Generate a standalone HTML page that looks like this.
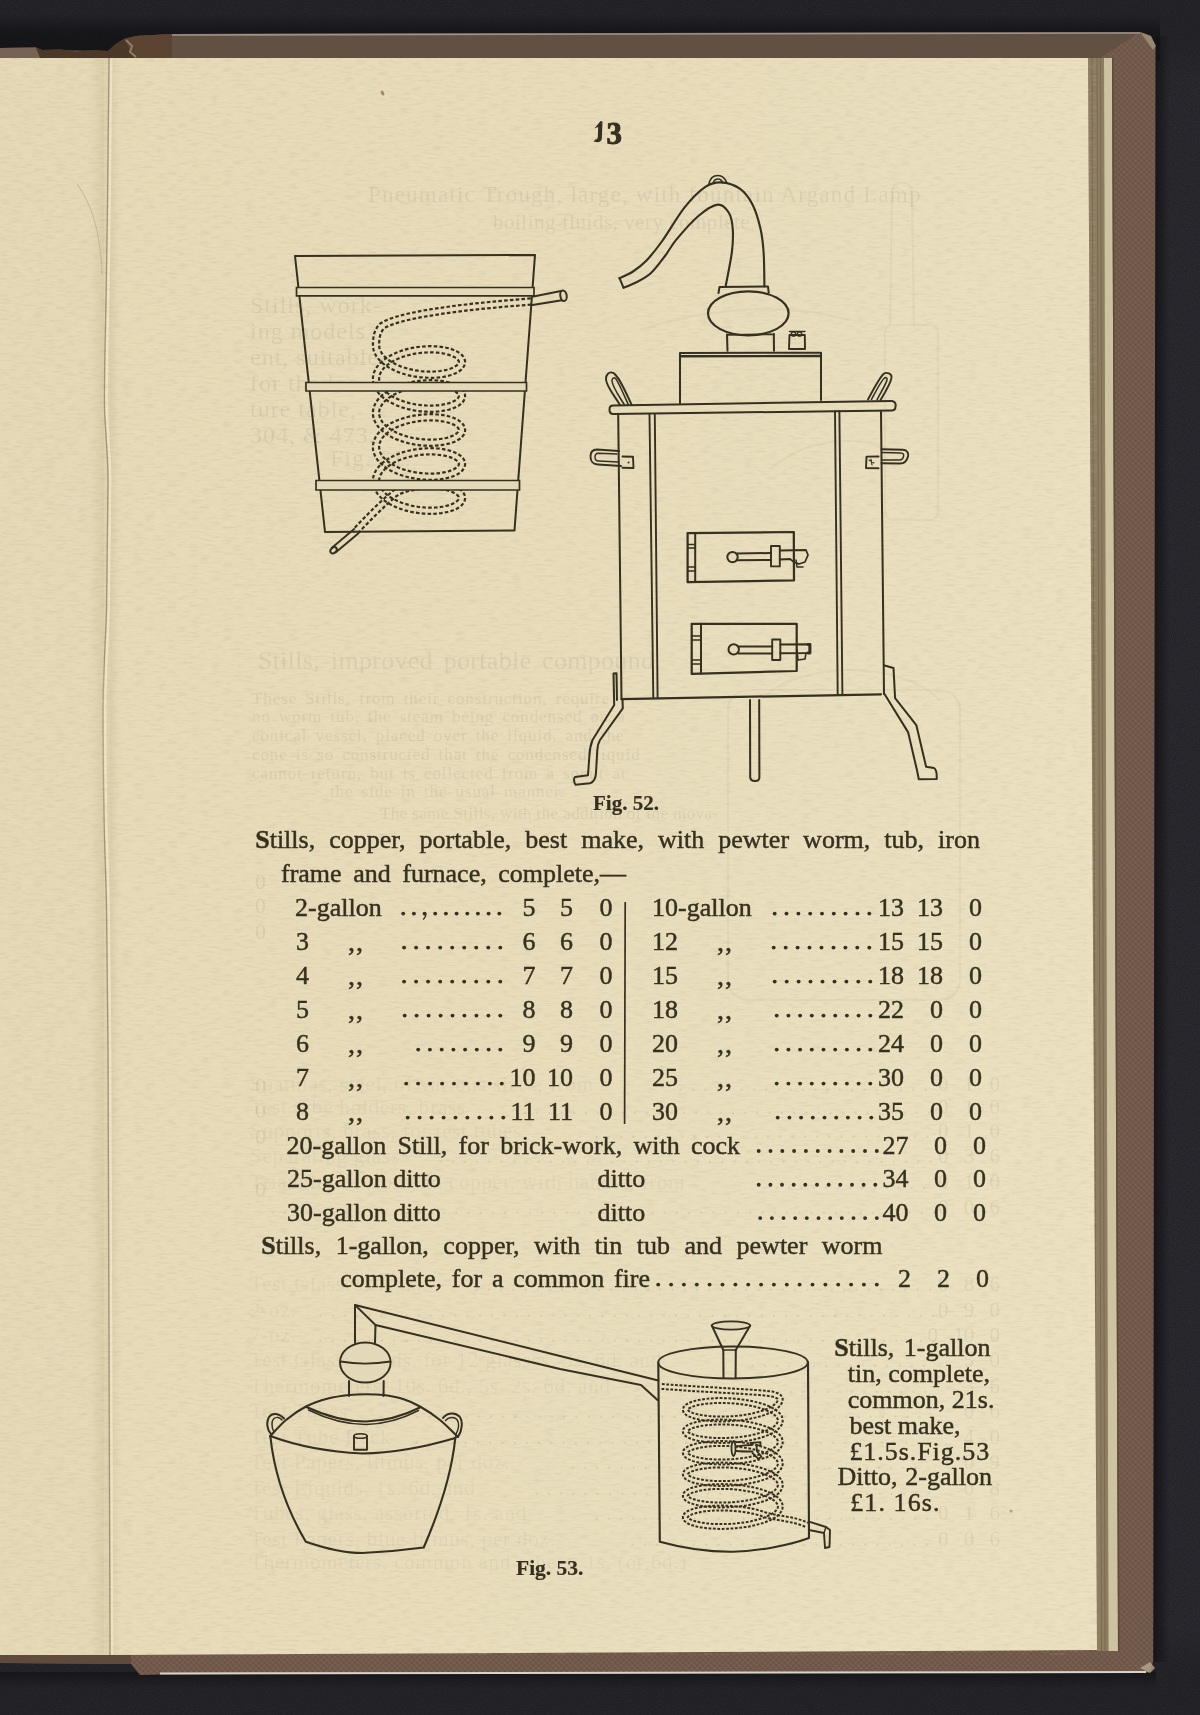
<!DOCTYPE html>
<html><head><meta charset="utf-8">
<style>
html,body{margin:0;padding:0;}
body{width:1200px;height:1715px;position:relative;overflow:hidden;background:#29292e;font-family:"Liberation Serif",serif;color:#35301f;}
#bg,#fg,#dots{position:absolute;left:0;top:0;}
#fg,#dots{filter:blur(0.25px);}
.t,.j{position:absolute;white-space:nowrap;font-size:26px;line-height:26px;-webkit-text-stroke:0.45px #35301f;filter:blur(0.3px);}
.j{text-align:justify;text-align-last:justify;}
.st{position:absolute;white-space:nowrap;color:rgba(55,60,50,0.075);filter:blur(0.6px);}
.b{font-weight:bold;-webkit-text-stroke:0.2px #35301f;}
</style></head>
<body>
<svg id="bg" width="1200" height="1715" viewBox="0 0 1200 1715">
  <defs>
    <linearGradient id="paperG" x1="0" y1="0" x2="1" y2="0.3">
      <stop offset="0" stop-color="#e5d9b6"/><stop offset="0.5" stop-color="#e7dbb9"/><stop offset="1" stop-color="#eae0bf"/>
    </linearGradient>
    <linearGradient id="leftG" x1="0" y1="0" x2="1" y2="0">
      <stop offset="0" stop-color="#e4d8b6"/><stop offset="0.8" stop-color="#e4d8b6"/><stop offset="1" stop-color="#ddd0ac"/>
    </linearGradient>
    <linearGradient id="gutR" x1="0" y1="0" x2="1" y2="0">
      <stop offset="0" stop-color="#d8cba6" stop-opacity="0.9"/><stop offset="1" stop-color="#e4d9b8" stop-opacity="0"/>
    </linearGradient>
    <linearGradient id="navyTop" x1="0" y1="0" x2="0" y2="1">
      <stop offset="0" stop-color="#141417" stop-opacity="0"/><stop offset="0.4" stop-color="#141417" stop-opacity="0.8"/><stop offset="1" stop-color="#141417" stop-opacity="1"/>
    </linearGradient>
    <linearGradient id="navyRight" x1="0" y1="0" x2="1" y2="0">
      <stop offset="0" stop-color="#141417" stop-opacity="0.9"/><stop offset="1" stop-color="#141417" stop-opacity="0"/>
    </linearGradient>
    <linearGradient id="navyBot" x1="0" y1="0" x2="0" y2="1">
      <stop offset="0" stop-color="#141417" stop-opacity="0.8"/><stop offset="1" stop-color="#141417" stop-opacity="0"/>
    </linearGradient>
    <filter id="cloth" x="0" y="0" width="100%" height="100%">
      <feTurbulence type="fractalNoise" baseFrequency="0.9 0.7" numOctaves="1" seed="7" result="n"/>
      <feColorMatrix type="matrix" values="0 0 0 0 0  0 0 0 0 0  0 0 0 0 0  -1.4 0 0 0 1.0" />
    </filter>
    <pattern id="hatch" width="4" height="4" patternUnits="userSpaceOnUse" patternTransform="rotate(45)">
      <rect width="4" height="1.3" fill="#000" opacity="0.10"/>
      <rect width="1.3" height="4" fill="#fff" opacity="0.05"/>
    </pattern>
    <linearGradient id="gutL" x1="0" y1="0" x2="1" y2="0">
      <stop offset="0" stop-color="#cfc29c" stop-opacity="0"/><stop offset="1" stop-color="#cfc29c" stop-opacity="0.35"/>
    </linearGradient>
    <linearGradient id="botFade" x1="0" y1="0" x2="0" y2="1">
      <stop offset="0" stop-color="#101013" stop-opacity="0"/><stop offset="0.45" stop-color="#101013" stop-opacity="0.22"/><stop offset="1" stop-color="#101013" stop-opacity="0.22"/>
    </linearGradient>
    <linearGradient id="topFade" x1="0" y1="0" x2="0" y2="1">
      <stop offset="0" stop-color="#101013" stop-opacity="0.22"/><stop offset="0.45" stop-color="#101013" stop-opacity="0.22"/><stop offset="1" stop-color="#101013" stop-opacity="0"/>
    </linearGradient>
    <filter id="noise" x="0" y="0" width="100%" height="100%">
      <feTurbulence type="fractalNoise" baseFrequency="0.09 0.45" numOctaves="2" seed="3" result="n"/>
      <feColorMatrix type="matrix" values="0 0 0 0 0  0 0 0 0 0  0 0 0 0 0  2.2 0 0 0 -1.0"/>
    </filter>
    <filter id="noise2" x="0" y="0" width="100%" height="100%">
      <feTurbulence type="fractalNoise" baseFrequency="0.09 0.45" numOctaves="2" seed="11" result="n"/>
      <feColorMatrix type="matrix" values="0 0 0 0 1  0 0 0 0 0.98  0 0 0 0 0.9  2.2 0 0 0 -1.0"/>
    </filter>
  </defs>
  <!-- cloth -->
  <rect x="0" y="0" width="1200" height="1715" fill="#2c2c32"/>
  <rect x="0" y="0" width="1200" height="1715" fill="#000" opacity="0.35" filter="url(#cloth)"/>
  <rect x="0" y="0" width="1200" height="80" fill="url(#topFade)"/>
  <rect x="0" y="14" width="1160" height="46" fill="url(#navyTop)"/>
  <rect x="0" y="1630" width="1200" height="85" fill="url(#botFade)"/>
  <rect x="1154" y="36" width="16" height="1626" fill="url(#navyRight)"/>
  <rect x="0" y="1672" width="1156" height="16" fill="url(#navyBot)"/>
  <!-- brown cover -->
  <path d="M0,48 L36,47.5 L42,50 L108,51 L116,44 L124,39 L136,36 L172,34 L1140,32 L1151,36 L1155.5,46 L1153,1662 L1149,1672.5 L160,1674.5 L140,1675 L131,1664 L0,1663 Z" fill="#735a4b"/>
  <path d="M0,48 L36,47.5 L42,50 L108,51 L116,44 L124,39 L136,36 L172,34 L1140,32 L1151,36 L1155.5,46 L1153,1662 L1149,1672.5 L160,1674.5 L140,1675 L131,1664 L0,1663 Z" fill="url(#hatch)"/>
  <path d="M172,34 L1140,32 L1100,58 L172,58 Z" fill="#625143"/>
  <path d="M0,48 L36,47.5 L42,50 L60,49 L75,51.5 L95,50 L108,51 L116,44 L124,39 L136,36 L172,34 L172,58 L0,58 Z" fill="#4c3829"/>
  <path d="M124,39 L136,36 L172,34 L172,58 L134,58 Z" fill="#5c4433"/>
  <path d="M0,48 L36,47.5 L40,58 L0,58 Z" fill="#766353"/>
  <path d="M126,40 L132,46 L130,52 L136,57" stroke="#a08c70" stroke-width="2" fill="none" opacity="0.8"/>
  <path d="M172,35 L1140,33" stroke="#9d938b" stroke-width="1.6" fill="none"/>
  <path d="M1080,58 L1112,58 L1112,100 L1100,70 Z" fill="#3e3026" opacity="0.55"/>
  <path d="M1140,32 L1151,36 L1156,46 L1153,50 L1146,40 Z" fill="#a39478" opacity="0.8"/>
  <path d="M160,1673.5 L1146,1672" stroke="#d9d3cc" stroke-width="2" fill="none"/>
  <path d="M0,1655 L131,1655 L131,1664 L0,1663 Z" fill="#5f4a3b"/>
  <path d="M1140,1668 L1150,1662 L1155,1668 L1150,1673 Z" fill="#b5a88c" opacity="0.8"/>
  <!-- page stack on right -->
  <path d="M1088,58 L1104,58 L1108.5,1651 L1097,1651 Z" fill="#8f7d62"/>
  <path d="M1092,58 L1096.5,1651 M1097,58 L1101.5,1651 M1100.5,58 L1105,1651" stroke="#7a6a52" stroke-width="1" fill="none"/>
  <path d="M1104,58 L1112,58 L1118,1651 L1108.5,1651 Z" fill="#cec3a0"/>
  <path d="M1112,58 L1113.5,58 L1119.5,1651 L1118,1651 Z" fill="#5e4a3c"/>
  <!-- right page -->
  <path d="M110,58 L1088,58 L1097,1650 L110,1655 Z" fill="url(#paperG)"/>
  <!-- left page -->
  <rect x="0" y="58" width="110" height="1597" fill="url(#leftG)"/>
  <rect x="110" y="58" width="14" height="1597" fill="url(#gutR)"/>
  <path d="M109,58 C108.5,120 107.5,220 106,300 C105,350 104,380 104.5,410 C106,440 108,460 108,480 C107.5,540 107,580 106.5,610 C105,650 103,680 103,710 C103,760 103.5,790 104,820 C105,860 106,880 106.5,910 C107,960 107.5,1000 108,1050 C108.5,1150 109,1250 109,1350 C109,1450 109.5,1550 110,1655" stroke="#f2ead0" stroke-width="2.4" fill="none" opacity="0.75" transform="translate(2.2,0)"/>
  <path d="M109,58 C108.5,120 107.5,220 106,300 C105,350 104,380 104.5,410 C106,440 108,460 108,480 C107.5,540 107,580 106.5,610 C105,650 103,680 103,710 C103,760 103.5,790 104,820 C105,860 106,880 106.5,910 C107,960 107.5,1000 108,1050 C108.5,1150 109,1250 109,1350 C109,1450 109.5,1550 110,1655" stroke="#a39470" stroke-width="1.3" fill="none"/>
  <rect x="92" y="58" width="12" height="1597" fill="url(#gutL)"/>
  <path d="M77,184 C85,195 95,215 99,242 C101,255 102,265 102,275" stroke="#bfb292" stroke-width="1.1" fill="none" opacity="0.8"/>
  <ellipse cx="382.5" cy="93" rx="1.6" ry="2.6" transform="rotate(-30 382.5 93)" fill="#8a6f52" opacity="0.8"/>
  <circle cx="1011" cy="1511" r="1.6" fill="#9a8c70" opacity="0.7"/>
  <!-- paper noise -->
  <rect x="0" y="58" width="1097" height="1597" fill="#000" opacity="0.045" filter="url(#noise)"/>
  <rect x="0" y="58" width="1097" height="1597" fill="#fff" opacity="0.10" filter="url(#noise2)"/>
</svg>

<div class="st" style="left:368px;top:182.9px;font-size:23px;line-height:23px;letter-spacing:1.2px;">Pneumatic Trough, large, with fountain Argand Lamp</div>
<div class="st" style="left:493px;top:211.5px;font-size:21px;line-height:21px;letter-spacing:0.5px;">boiling fluids, very complete</div>
<div class="st" style="left:250px;top:293.2px;font-size:24px;line-height:24px;letter-spacing:1px;">Stills, work-</div>
<div class="st" style="left:250px;top:319.2px;font-size:24px;line-height:24px;letter-spacing:1px;">ing models</div>
<div class="st" style="left:250px;top:345.2px;font-size:24px;line-height:24px;letter-spacing:1px;">ent, suitable</div>
<div class="st" style="left:250px;top:371.2px;font-size:24px;line-height:24px;letter-spacing:1px;">for the lec-</div>
<div class="st" style="left:250px;top:397.2px;font-size:24px;line-height:24px;letter-spacing:1px;">ture table,</div>
<div class="st" style="left:250px;top:423.2px;font-size:24px;line-height:24px;letter-spacing:1px;">304, &amp; 473.</div>
<div class="st" style="left:330px;top:446.2px;font-size:24px;line-height:24px;letter-spacing:1px;">Fig. 61.</div>
<div class="st" style="left:258px;top:647.6px;font-size:26px;line-height:26px;letter-spacing:0.3px;word-spacing:4px;">Stills, improved portable compound.</div>
<div class="st" style="left:252px;top:689.7px;font-size:17px;line-height:17px;letter-spacing:0.9px;word-spacing:3px;">These Stills, from their construction, require</div>
<div class="st" style="left:252px;top:708.4px;font-size:17px;line-height:17px;letter-spacing:0.9px;word-spacing:3px;">no worm tub, the steam being condensed on a</div>
<div class="st" style="left:252px;top:727.1px;font-size:17px;line-height:17px;letter-spacing:0.9px;word-spacing:3px;">conical vessel, placed over the liquid, and the</div>
<div class="st" style="left:252px;top:745.8px;font-size:17px;line-height:17px;letter-spacing:0.9px;word-spacing:3px;">cone is so constructed that the condensed liquid</div>
<div class="st" style="left:252px;top:764.5px;font-size:17px;line-height:17px;letter-spacing:0.9px;word-spacing:3px;">cannot return, but is collected from a spout at</div>
<div class="st" style="left:330px;top:783.2px;font-size:17px;line-height:17px;letter-spacing:0.9px;word-spacing:3px;">the side in the usual manner.</div>
<div class="st" style="left:380px;top:804.7px;font-size:17px;line-height:17px;letter-spacing:0.4px;">The same Stills, with the addition of the mova-</div>
<svg style="position:absolute;left:0;top:0;filter:blur(0.7px)" width="1200" height="1715" viewBox="0 0 1200 1715"><g fill="none" stroke="rgba(55,60,50,0.045)" stroke-width="2.2"><rect x="885" y="325" width="53" height="195" rx="8"/><path d="M890,325 L892,190 C895,180 908,180 912,190 L914,325"/><path d="M770,470 C800,440 860,430 900,455"/><path d="M640,330 C700,310 780,300 850,320"/><rect x="728" y="690" width="232" height="310" rx="20"/><path d="M760,700 C800,660 900,660 940,700"/></g></svg>
<div class="st" style="left:255px;top:870.7px;font-size:22px;line-height:22px;">0</div>
<div class="st" style="left:255px;top:894.7px;font-size:22px;line-height:22px;">0</div>
<div class="st" style="left:255px;top:920.7px;font-size:22px;line-height:22px;">0</div>
<div class="st" style="left:255px;top:1074.7px;font-size:22px;line-height:22px;">0</div>
<div class="st" style="left:255px;top:1099.7px;font-size:22px;line-height:22px;">0</div>
<div class="st" style="left:255px;top:1125.7px;font-size:22px;line-height:22px;">0</div>
<div class="st" style="left:255px;top:1178.7px;font-size:22px;line-height:22px;">0</div>
<div class="st" style="left:250px;top:1073.5px;font-size:21px;line-height:21px;letter-spacing:0.8px;opacity:0.6;">Spatulas, steel, of various sizes, from</div>
<div class="st" style="left:678px;top:1073.5px;font-size:21px;line-height:21px;letter-spacing:7px;">.....................</div>
<div class="st" style="right:200px;top:1073.5px;font-size:21px;line-height:21px;word-spacing:10px;">0 1 0</div>
<div class="st" style="left:250px;top:1096.5px;font-size:21px;line-height:21px;letter-spacing:0.8px;opacity:0.6;">Test tube holders, brass</div>
<div class="st" style="left:522px;top:1096.5px;font-size:21px;line-height:21px;letter-spacing:7px;">..................................</div>
<div class="st" style="right:200px;top:1096.5px;font-size:21px;line-height:21px;word-spacing:10px;">0 1 0</div>
<div class="st" style="left:250px;top:1120.5px;font-size:21px;line-height:21px;letter-spacing:0.8px;opacity:0.6;">Supports, brass, for test tubes</div>
<div class="st" style="left:594px;top:1120.5px;font-size:21px;line-height:21px;letter-spacing:7px;">............................</div>
<div class="st" style="right:200px;top:1120.5px;font-size:21px;line-height:21px;word-spacing:10px;">0 1 0</div>
<div class="st" style="left:250px;top:1145.5px;font-size:21px;line-height:21px;letter-spacing:0.8px;opacity:0.6;">Separating glass</div>
<div class="st" style="left:438px;top:1145.5px;font-size:21px;line-height:21px;letter-spacing:7px;">.........................................</div>
<div class="st" style="right:200px;top:1145.5px;font-size:21px;line-height:21px;word-spacing:10px;">0 3 6</div>
<div class="st" style="left:250px;top:1171.5px;font-size:21px;line-height:21px;letter-spacing:0.8px;opacity:0.6;">Triangles of iron and copper, with handle, from</div>
<div class="st" style="left:762px;top:1171.5px;font-size:21px;line-height:21px;letter-spacing:7px;">..............</div>
<div class="st" style="right:200px;top:1171.5px;font-size:21px;line-height:21px;word-spacing:10px;">0 1 0</div>
<div class="st" style="left:270px;top:1196.5px;font-size:21px;line-height:21px;letter-spacing:7px;">.......................................................</div>
<div class="st" style="right:200px;top:1196.5px;font-size:21px;line-height:21px;word-spacing:10px;">0 0 6</div>
<div class="st" style="left:250px;top:1273.5px;font-size:21px;line-height:21px;letter-spacing:0.8px;opacity:0.6;">Test Glasses, 1-oz.</div>
<div class="st" style="left:474px;top:1273.5px;font-size:21px;line-height:21px;letter-spacing:7px;">......................................</div>
<div class="st" style="right:200px;top:1273.5px;font-size:21px;line-height:21px;word-spacing:10px;">0 8 6</div>
<div class="st" style="left:250px;top:1299.5px;font-size:21px;line-height:21px;letter-spacing:0.8px;opacity:0.6;">2-oz.</div>
<div class="st" style="left:318px;top:1299.5px;font-size:21px;line-height:21px;letter-spacing:7px;">...................................................</div>
<div class="st" style="right:200px;top:1299.5px;font-size:21px;line-height:21px;word-spacing:10px;">0 9 0</div>
<div class="st" style="left:250px;top:1324.5px;font-size:21px;line-height:21px;letter-spacing:0.8px;opacity:0.6;">7-oz.</div>
<div class="st" style="left:318px;top:1324.5px;font-size:21px;line-height:21px;letter-spacing:7px;">...................................................</div>
<div class="st" style="right:200px;top:1324.5px;font-size:21px;line-height:21px;word-spacing:10px;">0 10 0</div>
<div class="st" style="left:250px;top:1349.5px;font-size:21px;line-height:21px;letter-spacing:0.8px;opacity:0.6;">Test Glass Stands, for 12 glasses, 3s. 6d. and</div>
<div class="st" style="left:750px;top:1349.5px;font-size:21px;line-height:21px;letter-spacing:7px;">...............</div>
<div class="st" style="right:200px;top:1349.5px;font-size:21px;line-height:21px;word-spacing:10px;">5 0</div>
<div class="st" style="left:250px;top:1375.5px;font-size:21px;line-height:21px;letter-spacing:0.8px;opacity:0.6;">Thermometers, 10s. 6d., 5s. 2s. 6d. and</div>
<div class="st" style="left:678px;top:1375.5px;font-size:21px;line-height:21px;letter-spacing:7px;">.....................</div>
<div class="st" style="right:200px;top:1375.5px;font-size:21px;line-height:21px;word-spacing:10px;">3 6</div>
<div class="st" style="left:250px;top:1400.5px;font-size:21px;line-height:21px;letter-spacing:0.8px;opacity:0.6;">Test Tubes</div>
<div class="st" style="left:378px;top:1400.5px;font-size:21px;line-height:21px;letter-spacing:7px;">..............................................</div>
<div class="st" style="right:200px;top:1400.5px;font-size:21px;line-height:21px;word-spacing:10px;">0 6</div>
<div class="st" style="left:250px;top:1426.5px;font-size:21px;line-height:21px;letter-spacing:0.8px;opacity:0.6;">Test Tube Rack</div>
<div class="st" style="left:414px;top:1426.5px;font-size:21px;line-height:21px;letter-spacing:7px;">...........................................</div>
<div class="st" style="right:200px;top:1426.5px;font-size:21px;line-height:21px;word-spacing:10px;">4 0</div>
<div class="st" style="left:250px;top:1451.5px;font-size:21px;line-height:21px;letter-spacing:0.8px;opacity:0.6;">Test Papers, litmus, per doz.</div>
<div class="st" style="left:570px;top:1451.5px;font-size:21px;line-height:21px;letter-spacing:7px;">..............................</div>
<div class="st" style="right:200px;top:1451.5px;font-size:21px;line-height:21px;word-spacing:10px;">0 9</div>
<div class="st" style="left:250px;top:1477.5px;font-size:21px;line-height:21px;letter-spacing:0.8px;opacity:0.6;">Test Liquids, 1s. 6d. and</div>
<div class="st" style="left:534px;top:1477.5px;font-size:21px;line-height:21px;letter-spacing:7px;">.................................</div>
<div class="st" style="right:200px;top:1477.5px;font-size:21px;line-height:21px;word-spacing:10px;">0 8</div>
<div class="st" style="left:250px;top:1502.5px;font-size:21px;line-height:21px;letter-spacing:0.8px;opacity:0.6;">Tubes, glass, assorted, 1s. and</div>
<div class="st" style="left:594px;top:1502.5px;font-size:21px;line-height:21px;letter-spacing:7px;">............................</div>
<div class="st" style="right:200px;top:1502.5px;font-size:21px;line-height:21px;word-spacing:10px;">0 1 6</div>
<div class="st" style="left:250px;top:1528.5px;font-size:21px;line-height:21px;letter-spacing:0.8px;opacity:0.6;">Test Papers, blue litmus, per doz.</div>
<div class="st" style="left:630px;top:1528.5px;font-size:21px;line-height:21px;letter-spacing:7px;">.........................</div>
<div class="st" style="right:200px;top:1528.5px;font-size:21px;line-height:21px;word-spacing:10px;">0 0 6</div>
<div class="st" style="left:250px;top:1551.5px;font-size:21px;line-height:21px;letter-spacing:0.8px;opacity:0.6;">Thermometers, common and others, 1s. (or 6d.)</div>
<svg id="fg" width="1200" height="1715" viewBox="0 0 1200 1715"><polyline points="531.2,304.6 519.7,305.5 508.1,306.4 496.4,307.5 484.8,308.6 473.4,309.8 462.2,311.1 451.3,312.5 440.8,314.0 430.9,315.6 421.5,317.2 412.9,318.9 405.0,320.7 398.1,322.6 392.1,324.6 387.3,326.6 383.9,328.4 382.4,330.4 381.1,332.8 380.1,335.6 379.5,338.5 379.2,341.7 379.1,345.0 379.2,346.5 379.4,347.9 379.9,349.4 380.5,350.8 381.3,352.3 382.2,353.8 383.4,355.3 384.7,356.7 386.3,358.1 387.9,359.5 389.8,360.8 391.8,362.1 394.0,363.3 396.3,364.5 398.7,365.6 401.2,366.6 403.9,367.5 406.6,368.3 409.4,369.1 412.2,369.7 415.1,370.3 418.0,370.7 420.9,371.1 423.8,371.4 426.6,371.5 429.5,371.6 432.2,371.6 435.0,371.5 437.6,371.3 440.1,371.0 442.6,370.6 444.9,370.2 447.0,369.7 449.0,369.1 450.9,368.5 452.6,367.8 454.0,367.1 455.3,366.3 456.4,365.6 457.3,364.9 458.0,364.2 458.4,363.5 458.7,362.9 458.9,362.4 458.9,362.0 458.9,361.5 458.7,361.1 458.4,360.5 457.9,359.8 457.3,359.1 456.4,358.4 455.3,357.6 454.0,356.9 452.5,356.2 450.8,355.5 449.0,354.9 447.0,354.3 444.8,353.8 442.5,353.3 440.0,353.0 437.5,352.7 434.9,352.5 432.2,352.4 429.4,352.4 426.5,352.5 423.7,352.6 420.8,352.9 417.9,353.3 415.0,353.7 412.1,354.3 409.3,355.0 406.5,355.7 403.8,356.5 401.2,357.5 398.6,358.5 396.2,359.5 393.9,360.7 391.8,361.9 389.7,363.2 387.9,364.5 386.2,365.9 384.7,367.3 383.3,368.8 382.2,370.3 381.2,371.7 380.4,373.2 379.8,374.7 379.4,376.1 379.2,377.6 379.1,379.0 379.2,380.5 379.4,382.0 379.9,383.4 380.5,384.9 381.3,386.4 382.3,387.8 383.4,389.3 384.8,390.7 386.3,392.2 388.0,393.5 389.9,394.9 391.9,396.2 394.1,397.4 396.4,398.5 398.8,399.6 401.3,400.6 404.0,401.5 406.7,402.3 409.5,403.1 412.3,403.7 415.2,404.3 418.0,404.7 421.0,405.1 423.8,405.4 426.7,405.5 429.5,405.6 432.3,405.6 435.0,405.5 437.7,405.3 440.2,405.0 442.6,404.6 444.9,404.2 447.1,403.7 449.1,403.1 450.9,402.5 452.6,401.8 454.1,401.1 455.4,400.3 456.4,399.6 457.3,398.8 458.0,398.1 458.4,397.5 458.7,396.9 458.9,396.4 458.9,396.0 458.9,395.5 458.7,395.0 458.4,394.5 457.9,393.8 457.2,393.1 456.4,392.4 455.3,391.6 454.0,390.9 452.5,390.2 450.8,389.5 448.9,388.8 446.9,388.3 444.7,387.8 442.4,387.3 440.0,387.0 437.4,386.7 434.8,386.5 432.1,386.4 429.3,386.4 426.4,386.5 423.6,386.6 420.7,386.9 417.8,387.3 414.9,387.8 412.0,388.3 409.2,389.0 406.4,389.7 403.7,390.6 401.1,391.5 398.6,392.5 396.1,393.6 393.9,394.7 391.7,396.0 389.7,397.2 387.8,398.6 386.2,400.0 384.6,401.4 383.3,402.8 382.2,404.3 381.2,405.8 380.4,407.3 379.8,408.7 379.4,410.2 379.2,411.6 379.1,413.1 379.2,414.5 379.5,416.0 379.9,417.5 380.5,418.9 381.3,420.4 382.3,421.9 383.5,423.3 384.8,424.8 386.4,426.2 388.1,427.6 389.9,428.9 392.0,430.2 394.1,431.4 396.4,432.6 398.9,433.6 401.4,434.6 404.0,435.5 406.8,436.4 409.5,437.1 412.4,437.8 415.2,438.3 418.1,438.8 421.0,439.1 423.9,439.4 426.8,439.5 429.6,439.6 432.4,439.6 435.1,439.5 437.8,439.3 440.3,439.0 442.7,438.6 445.0,438.2 447.1,437.7 449.1,437.1 451.0,436.4 452.7,435.8 454.1,435.0 455.4,434.3 456.5,433.5 457.3,432.8 458.0,432.1 458.4,431.5 458.7,430.9 458.9,430.4 458.9,430.0 458.8,429.5 458.7,429.0 458.4,428.4 457.9,427.8 457.2,427.1 456.3,426.3 455.2,425.6 453.9,424.8 452.4,424.1 450.7,423.5 448.8,422.8 446.8,422.3 444.6,421.8 442.3,421.3 439.9,421.0 437.3,420.7 434.7,420.5 432.0,420.4 429.2,420.4 426.4,420.5 423.5,420.7 420.6,420.9 417.7,421.3 414.8,421.8 411.9,422.3 409.1,423.0 406.3,423.8 403.6,424.6 401.0,425.5 398.5,426.5 396.1,427.6 393.8,428.8 391.6,430.0 389.6,431.3 387.8,432.6 386.1,434.0 384.6,435.4 383.3,436.9 382.1,438.3 381.2,439.8 380.4,441.3 379.8,442.8 379.4,444.2 379.2,445.7 379.1,447.1 379.2,448.6 379.5,450.0 379.9,451.5 380.5,453.0 381.3,454.5 382.3,455.9 383.5,457.4 384.9,458.8 386.4,460.2 388.1,461.6 390.0,463.0 392.0,464.2 394.2,465.4 396.5,466.6 398.9,467.7 401.5,468.7 404.1,469.6 406.8,470.4 409.6,471.1 412.5,471.8 415.3,472.3 418.2,472.8 421.1,473.1 424.0,473.4 426.9,473.5 429.7,473.6 432.5,473.6 435.2,473.5 437.8,473.3 440.4,473.0 442.8,472.6 445.1,472.2 447.2,471.6 449.2,471.1 451.0,470.4 452.7,469.7 454.2,469.0 455.4,468.3 456.5,467.5 457.4,466.8 458.0,466.1 458.5,465.4 458.7,464.9 458.9,464.4 458.9,464.0 458.8,463.5 458.7,463.0 458.4,462.4 457.9,461.8 457.2,461.1 456.3,460.3 455.2,459.6 453.9,458.8 452.4,458.1 450.7,457.4 448.8,456.8 446.8,456.2 444.6,455.7 442.3,455.3 439.8,455.0 437.3,454.7 434.6,454.5 431.9,454.4 429.1,454.4 426.3,454.5 423.4,454.7 420.5,454.9 417.6,455.3 414.7,455.8 411.8,456.4 409.0,457.0 406.2,457.8 403.5,458.6 400.9,459.5 398.4,460.6 396.0,461.7 393.7,462.8 391.6,464.0 389.6,465.3 387.7,466.7 386.1,468.1 384.6,469.5 383.2,470.9 382.1,472.4 381.2,473.9 380.4,475.3 379.8,476.8 379.4,478.3 379.2,479.7 379.1,481.2 379.2,482.6 379.5,484.1 379.9,485.6 380.6,487.0 381.4,488.5 382.4,490.0 383.5,491.4 384.9,492.9 386.5,494.3 388.2,495.7 390.1,497.0 392.1,498.3 394.3,499.5 396.6,500.6 399.0,501.7 401.6,502.7 404.2,503.6 406.9,504.4 409.7,505.2 412.5,505.8 415.4,506.3 418.3,506.8 421.2,507.1 424.1,507.4 427.0,507.6 429.8,507.6 432.6,507.6 435.3,507.5 437.9,507.3 440.4,507.0 442.8,506.6 445.1,506.1 447.3,505.6 449.3,505.0 451.1,504.4 452.7,503.7 454.2,503.0 455.5,502.3 456.5,501.5 457.4,500.8 458.0,500.1 458.5,499.4 458.7,498.9 458.9,498.4 458.9,497.9 458.8,497.5 458.7,497.0 458.4,496.4 457.9,495.7 457.2,495.0 456.3,494.3 455.1,493.5 453.8,492.8 452.3,492.1 450.6,491.4 448.7,490.8 446.7,490.2 444.5,489.7 442.2,489.3 439.7,488.9 437.2,488.7 434.5,488.5 431.8,488.4 429.0,488.4 426.2,488.5 423.3,488.7 420.4,489.0 417.5,489.3 414.6,489.8 411.8,490.4 408.9,491.0 406.2,491.8 403.5,492.6 400.8,493.6 398.6,494.5 396.9,495.8 394.4,497.7 391.7,500.1 388.6,502.8 385.4,505.8 382.1,508.9 378.7,512.2 375.3,515.5 371.9,518.9 368.7,522.1 365.7,525.2 362.9,528.1 360.4,530.8 358.3,533.1" fill="none" stroke="#35301f" stroke-width="2.2" stroke-dasharray="3.6 2.2" stroke-linecap="butt"/>
<polyline points="530.8,298.4 519.2,299.3 507.6,300.3 495.9,301.3 484.2,302.5 472.7,303.7 461.4,305.0 450.5,306.4 439.9,307.9 429.9,309.4 420.4,311.1 411.6,312.9 403.5,314.7 396.3,316.7 390.0,318.8 384.6,321.0 380.1,323.6 377.3,326.9 375.4,330.3 374.1,333.9 373.4,337.6 373.0,341.3 372.9,345.0 373.0,347.2 373.4,349.3 374.0,351.4 374.9,353.5 375.9,355.5 377.2,357.4 378.7,359.3 380.3,361.1 382.2,362.8 384.2,364.4 386.3,366.0 388.6,367.4 391.1,368.8 393.6,370.1 396.3,371.3 399.1,372.4 401.9,373.4 404.9,374.3 407.9,375.1 410.9,375.8 414.0,376.4 417.1,376.9 420.2,377.3 423.3,377.5 426.4,377.7 429.4,377.8 432.4,377.8 435.3,377.7 438.2,377.5 440.9,377.2 443.6,376.8 446.1,376.3 448.6,375.7 450.9,375.0 453.0,374.3 455.1,373.5 456.9,372.6 458.6,371.6 460.2,370.5 461.5,369.4 462.7,368.1 463.7,366.7 464.5,365.2 464.9,363.6 465.1,362.0 464.9,360.3 464.4,358.7 463.7,357.2 462.7,355.9 461.5,354.6 460.1,353.4 458.6,352.4 456.9,351.4 455.0,350.5 453.0,349.7 450.8,348.9 448.5,348.3 446.1,347.7 443.5,347.2 440.8,346.8 438.1,346.5 435.2,346.3 432.3,346.2 429.3,346.2 426.3,346.3 423.2,346.5 420.1,346.7 417.0,347.1 413.9,347.6 410.8,348.2 407.8,348.9 404.8,349.7 401.9,350.6 399.0,351.7 396.2,352.8 393.6,353.9 391.0,355.2 388.6,356.6 386.3,358.1 384.1,359.6 382.1,361.3 380.3,363.0 378.6,364.8 377.2,366.6 375.9,368.6 374.8,370.6 374.0,372.6 373.4,374.8 373.0,376.9 372.9,379.1 373.0,381.2 373.4,383.4 374.0,385.5 374.9,387.6 376.0,389.6 377.3,391.5 378.7,393.3 380.4,395.1 382.2,396.8 384.2,398.5 386.4,400.0 388.7,401.5 391.2,402.8 393.7,404.1 396.4,405.3 399.2,406.4 402.0,407.4 405.0,408.3 408.0,409.1 411.0,409.8 414.1,410.4 417.2,410.9 420.3,411.3 423.4,411.6 426.5,411.7 429.5,411.8 432.5,411.8 435.4,411.7 438.3,411.5 441.0,411.1 443.7,410.7 446.2,410.3 448.7,409.7 451.0,409.0 453.1,408.3 455.1,407.4 457.0,406.5 458.7,405.6 460.2,404.5 461.6,403.3 462.8,402.1 463.7,400.7 464.5,399.2 465.0,397.6 465.1,395.9 464.9,394.3 464.4,392.7 463.7,391.2 462.7,389.8 461.5,388.6 460.1,387.4 458.5,386.3 456.8,385.4 454.9,384.5 452.9,383.7 450.7,382.9 448.4,382.3 446.0,381.7 443.4,381.2 440.8,380.8 438.0,380.5 435.1,380.3 432.2,380.2 429.2,380.2 426.2,380.3 423.1,380.5 420.0,380.8 416.9,381.2 413.8,381.7 410.7,382.3 407.7,383.0 404.7,383.8 401.8,384.7 398.9,385.7 396.1,386.8 393.5,388.0 390.9,389.3 388.5,390.7 386.2,392.1 384.1,393.7 382.1,395.3 380.2,397.0 378.6,398.8 377.1,400.7 375.9,402.6 374.8,404.6 374.0,406.7 373.4,408.8 373.0,411.0 372.9,413.1 373.0,415.3 373.4,417.4 374.1,419.6 374.9,421.6 376.0,423.6 377.3,425.5 378.8,427.4 380.5,429.2 382.3,430.9 384.3,432.5 386.5,434.1 388.8,435.5 391.2,436.9 393.8,438.2 396.5,439.4 399.3,440.4 402.1,441.4 405.1,442.3 408.1,443.1 411.1,443.8 414.2,444.4 417.3,444.9 420.4,445.3 423.5,445.6 426.5,445.7 429.6,445.8 432.6,445.8 435.5,445.7 438.3,445.4 441.1,445.1 443.8,444.7 446.3,444.2 448.7,443.7 451.0,443.0 453.2,442.2 455.2,441.4 457.0,440.5 458.7,439.5 460.3,438.5 461.6,437.3 462.8,436.0 463.8,434.6 464.5,433.1 465.0,431.5 465.1,429.9 464.9,428.2 464.4,426.6 463.6,425.1 462.6,423.8 461.4,422.5 460.0,421.4 458.5,420.3 456.8,419.3 454.9,418.4 452.9,417.6 450.7,416.9 448.4,416.2 445.9,415.7 443.3,415.2 440.7,414.8 437.9,414.5 435.0,414.3 432.1,414.2 429.1,414.2 426.1,414.3 423.0,414.5 419.9,414.8 416.8,415.2 413.7,415.7 410.6,416.3 407.6,417.0 404.6,417.8 401.7,418.7 398.8,419.7 396.1,420.8 393.4,422.0 390.8,423.3 388.4,424.7 386.1,426.2 384.0,427.7 382.0,429.4 380.2,431.1 378.5,432.9 377.1,434.7 375.8,436.7 374.8,438.7 373.9,440.8 373.4,442.9 373.0,445.0 372.9,447.2 373.0,449.4 373.4,451.5 374.1,453.6 375.0,455.7 376.0,457.7 377.3,459.6 378.8,461.5 380.5,463.2 382.4,464.9 384.4,466.6 386.6,468.1 388.9,469.6 391.3,470.9 393.9,472.2 396.6,473.4 399.3,474.5 402.2,475.5 405.2,476.4 408.2,477.2 411.2,477.8 414.3,478.4 417.4,478.9 420.5,479.3 423.6,479.6 426.6,479.7 429.7,479.8 432.7,479.8 435.6,479.7 438.4,479.4 441.2,479.1 443.8,478.7 446.4,478.2 448.8,477.6 451.1,477.0 453.2,476.2 455.2,475.4 457.1,474.5 458.8,473.5 460.3,472.4 461.7,471.2 462.8,470.0 463.8,468.6 464.5,467.1 465.0,465.5 465.1,463.8 464.9,462.2 464.4,460.6 463.6,459.1 462.6,457.7 461.4,456.5 460.0,455.3 458.4,454.3 456.7,453.3 454.8,452.4 452.8,451.6 450.6,450.9 448.3,450.2 445.8,449.7 443.3,449.2 440.6,448.8 437.8,448.5 435.0,448.3 432.0,448.2 429.0,448.2 426.0,448.3 422.9,448.5 419.8,448.8 416.7,449.2 413.6,449.7 410.5,450.3 407.5,451.0 404.5,451.8 401.6,452.7 398.7,453.8 396.0,454.9 393.3,456.1 390.8,457.4 388.4,458.7 386.1,460.2 383.9,461.8 381.9,463.4 380.1,465.1 378.5,466.9 377.0,468.8 375.8,470.8 374.7,472.8 373.9,474.8 373.3,477.0 373.0,479.1 372.9,481.3 373.1,483.4 373.5,485.6 374.1,487.7 375.0,489.7 376.1,491.7 377.4,493.7 378.9,495.5 380.6,497.3 382.4,499.0 384.4,500.6 386.6,502.2 388.9,503.6 391.4,505.0 394.0,506.2 396.7,507.4 399.4,508.5 402.3,509.5 405.2,510.4 408.2,511.2 411.3,511.9 414.4,512.4 417.5,512.9 420.6,513.3 423.7,513.6 426.7,513.7 429.8,513.8 432.8,513.8 435.7,513.7 438.5,513.4 441.3,513.1 443.9,512.7 446.5,512.2 448.9,511.6 451.2,510.9 453.3,510.2 455.3,509.4 457.2,508.5 458.8,507.5 460.4,506.4 461.7,505.2 462.9,503.9 463.8,502.5 464.5,501.0 465.0,499.4 465.1,497.8 464.9,496.1 464.4,494.5 463.6,493.1 462.6,491.7 461.3,490.5 460.0,489.3 458.4,488.3 456.7,487.3 454.8,486.4 452.7,485.6 450.5,484.9 448.2,484.2 445.8,483.6 443.2,483.2 440.5,482.8 437.7,482.5 434.9,482.3 431.9,482.2 428.9,482.2 425.9,482.3 422.8,482.5 419.7,482.8 416.6,483.2 413.5,483.7 410.4,484.3 407.4,485.0 404.4,485.9 401.5,486.8 398.6,487.8 395.6,489.0 393.1,490.9 390.5,493.0 387.6,495.4 384.5,498.2 381.2,501.2 377.8,504.4 374.4,507.7 370.9,511.1 367.5,514.5 364.3,517.8 361.2,520.9 358.4,523.9 355.9,526.6 353.7,528.9" fill="none" stroke="#35301f" stroke-width="2.2" stroke-dasharray="3.6 2.2" stroke-linecap="butt"/>
<path d="M295,256 L535,255 L514.5,530.5 L325,532 Z" fill="none" stroke="#35301f" stroke-width="2.02" stroke-linejoin="round" stroke-linecap="round" />
<path d="M296.5,287.5 L534,287.5 L534,295.8 L296.5,295.8 Z" fill="#e3d8b7" stroke="#35301f" stroke-width="1.7"/>
<path d="M306,382.5 L526.5,382.5 L526.5,391 L306,391 Z" fill="#e3d8b7" stroke="#35301f" stroke-width="1.7"/>
<path d="M316,480.5 L519.5,480.5 L519.5,490 L316,490 Z" fill="#e3d8b7" stroke="#35301f" stroke-width="1.7"/>
<path d="M533.5,296.5 L561,291" fill="none" stroke="#35301f" stroke-width="1.9" stroke-linejoin="round" stroke-linecap="round" />
<path d="M532.5,305 L563.5,300" fill="none" stroke="#35301f" stroke-width="1.9" stroke-linejoin="round" stroke-linecap="round" />
<ellipse cx="563.5" cy="295.7" rx="3.2" ry="5.3" transform="rotate(-10 563.5 295.7)" fill="#e3d8b7" stroke="#35301f" stroke-width="2"/>
<path d="M354.2,529 L331.6,548" fill="none" stroke="#35301f" stroke-width="1.9" stroke-linejoin="round" stroke-linecap="round" />
<path d="M358.2,533.5 L335.6,552.5" fill="none" stroke="#35301f" stroke-width="1.9" stroke-linejoin="round" stroke-linecap="round" />
<ellipse cx="333.6" cy="550.3" rx="2.6" ry="3.6" transform="rotate(50 333.6 550.3)" fill="#e6dab8" stroke="#35301f" stroke-width="2"/>
<path d="M619.5,278.2 C621.8,277.1 628.6,274.4 633.0,271.5 C637.4,268.6 641.1,266.1 646.0,261.0 C650.9,255.9 655.8,249.9 662.2,241.0 C668.6,232.1 677.3,216.7 684.4,207.7 C691.5,198.7 698.9,191.4 705.0,187.2 C711.1,183.0 715.0,182.2 720.8,182.4 C726.6,182.7 734.5,185.0 739.8,188.7 C745.1,192.4 749.1,198.0 752.5,204.6 C755.9,211.2 758.5,220.4 760.4,228.3 C762.2,236.2 762.9,242.3 763.6,252.0 C764.3,261.7 764.3,280.8 764.4,286.5" fill="none" stroke="#35301f" stroke-width="2.13" stroke-linejoin="round" stroke-linecap="round" />
<path d="M623.5,287.7 C625.8,286.8 632.4,284.4 637.0,282.0 C641.6,279.6 646.3,277.3 651.0,273.0 C655.7,268.7 660.8,261.6 665.0,256.0 C669.2,250.4 670.9,246.1 676.5,239.4 C682.1,232.7 691.8,221.5 698.7,215.7 C705.6,209.9 712.7,205.1 717.7,204.6 C722.7,204.1 726.2,208.6 728.7,212.5 C731.2,216.4 732.2,221.7 732.7,228.3 C733.2,234.9 733.1,242.3 731.9,252.0 C730.7,261.7 726.6,280.8 725.6,286.5" fill="none" stroke="#35301f" stroke-width="2.13" stroke-linejoin="round" stroke-linecap="round" />
<path d="M619.5,278.2 L623.5,287.7" fill="none" stroke="#35301f" stroke-width="2.02" stroke-linejoin="round" stroke-linecap="round" />
<path d="M709,184 C710,178 714,175.5 718,175.5 C722,175.5 725,178 727,183" fill="none" stroke="#35301f" stroke-width="1.68" stroke-linejoin="round" stroke-linecap="round" />
<path d="M713,183 C714,180 716,179 718,179 C720.5,179 722,180.5 723,183" fill="none" stroke="#35301f" stroke-width="1.34" stroke-linejoin="round" stroke-linecap="round" />
<path d="M718.5,293 L719.5,287 L768,286.5 L768.7,292.7" fill="none" stroke="#35301f" stroke-width="2.02" stroke-linejoin="round" stroke-linecap="round" />
<ellipse cx="748.3" cy="313.3" rx="40.3" ry="22" fill="none" stroke="#35301f" stroke-width="2.2"/>
<path d="M727,334.5 L727.5,350.7 M773.8,334 L774,350.7" fill="none" stroke="#35301f" stroke-width="2.02" stroke-linejoin="round" stroke-linecap="round" />
<path d="M727,334.8 L774,334.3" fill="none" stroke="#35301f" stroke-width="1.79" stroke-linejoin="round" stroke-linecap="round" />
<path d="M789,349 L789.5,335 L804.8,335 L805,349 Z" fill="none" stroke="#35301f" stroke-width="1.9" stroke-linejoin="round" stroke-linecap="round" />
<circle cx="793.5" cy="334" r="2.2" fill="none" stroke="#35301f" stroke-width="1.3"/>
<circle cx="799.5" cy="334" r="2.2" fill="none" stroke="#35301f" stroke-width="1.3"/>
<path d="M789.5,331.5 L805,331.5" fill="none" stroke="#35301f" stroke-width="1.34" stroke-linejoin="round" stroke-linecap="round" />
<path d="M680,404 L680,353 L821,352.7 L821,400" fill="none" stroke="#35301f" stroke-width="2.02" stroke-linejoin="round" stroke-linecap="round" />
<path d="M680.5,356.3 L820.5,356" fill="none" stroke="#35301f" stroke-width="2.46" stroke-linejoin="round" stroke-linecap="round" />
<path d="M613,405.5 L891.5,401 C895.5,401 896,405 895.5,406.5 C895.5,409 894,410.5 891.5,410.5 L613,414 C610,414 609.5,412 609.5,409.5 C609.5,407 610.5,405.5 613,405.5 Z" fill="none" stroke="#35301f" stroke-width="2.02" stroke-linejoin="round" stroke-linecap="round" />
<path d="M620,405 C614,395 606,386 606,379 C606,374 609,372 612,372.5 C617,373 624,388 631.5,404.5" fill="none" stroke="#35301f" stroke-width="1.9" stroke-linejoin="round" stroke-linecap="round" />
<path d="M624.5,405 C619,396 612.5,387 612,381 C612,378 614,377 615.5,378.5 C618,381 624,395 628.5,405" fill="none" stroke="#35301f" stroke-width="1.57" stroke-linejoin="round" stroke-linecap="round" />
<path d="M868,399.5 C873,390 880,377 884,373.5 C887,372 891.5,373.5 891.5,377 C891.5,382 886,391 880.5,400" fill="none" stroke="#35301f" stroke-width="1.9" stroke-linejoin="round" stroke-linecap="round" />
<path d="M871.5,399.5 C876,391 881,381 884.5,378 C886,377 887.5,378 887,380 C886,384 881,392 877,399.8" fill="none" stroke="#35301f" stroke-width="1.57" stroke-linejoin="round" stroke-linecap="round" />
<path d="M618.2,414.5 L621.5,699.2" fill="none" stroke="#35301f" stroke-width="2.02" stroke-linejoin="round" stroke-linecap="round" />
<path d="M881,411 L884,694" fill="none" stroke="#35301f" stroke-width="2.02" stroke-linejoin="round" stroke-linecap="round" />
<path d="M649.5,414.5 L653.3,697.5 M654.8,414.5 L657.6,697.5" fill="none" stroke="#35301f" stroke-width="1.9" stroke-linejoin="round" stroke-linecap="round" />
<path d="M835,411.2 L837.7,695 M839.4,411 L842.4,695" fill="none" stroke="#35301f" stroke-width="1.9" stroke-linejoin="round" stroke-linecap="round" />
<path d="M621.5,699.2 L881,694.3" fill="none" stroke="#35301f" stroke-width="2.24" stroke-linejoin="round" stroke-linecap="round" />
<path d="M619,451 L597,449.5 C592,449.5 590.5,453 590.5,456.5 C590.5,461 593,464.5 598,464.5 L621,466" fill="none" stroke="#35301f" stroke-width="1.9" stroke-linejoin="round" stroke-linecap="round" />
<path d="M617,454 L598.5,453.2 C596,453.2 595,455 595,457 C595,459.5 596.5,461 598.5,461 L619,462" fill="none" stroke="#35301f" stroke-width="1.46" stroke-linejoin="round" stroke-linecap="round" />
<path d="M622.5,456.5 L633,456.8 L633.5,468 L622.5,467.8" fill="none" stroke="#35301f" stroke-width="1.9" stroke-linejoin="round" stroke-linecap="round" />
<circle cx="628.5" cy="462.5" r="1" fill="#35301f"/>
<path d="M881.5,449.2 L903,449.8 C907.5,450 909,454 908,456.5 C907,460.5 904,463.5 900,463.5 L881.5,463.3" fill="none" stroke="#35301f" stroke-width="1.9" stroke-linejoin="round" stroke-linecap="round" />
<path d="M882,452.5 L901,453 C903.5,453 904,455 903.5,456.5 C903,458.5 901.5,460 899.5,460 L882,460" fill="none" stroke="#35301f" stroke-width="1.46" stroke-linejoin="round" stroke-linecap="round" />
<path d="M878.5,456.5 L866.5,456.6 L866,468 L878.5,468.2" fill="none" stroke="#35301f" stroke-width="1.9" stroke-linejoin="round" stroke-linecap="round" />
<path d="M869,460 L874,463 M871,459 L872,465" fill="none" stroke="#35301f" stroke-width="1.12" stroke-linejoin="round" stroke-linecap="round" />
<path d="M687.6,533.2 L793.8,532 L794,580.4 L687.6,582.2 Z" fill="none" stroke="#35301f" stroke-width="2.24" stroke-linejoin="round" stroke-linecap="round" />
<path d="M695.2,533 L695.2,582" fill="none" stroke="#35301f" stroke-width="2.02" stroke-linejoin="round" stroke-linecap="round" />
<path d="M688,544.5 L695,544.5 M688,548 L695,548 M688,567 L695,567 M688,571 L695,571" fill="none" stroke="#35301f" stroke-width="1.46" stroke-linejoin="round" stroke-linecap="round" />
<circle cx="732.5" cy="557.1" r="5.2" fill="none" stroke="#35301f" stroke-width="2"/>
<path d="M737,553.6 L771,553 M737,560.2 L771,560" fill="none" stroke="#35301f" stroke-width="2.02" stroke-linejoin="round" stroke-linecap="round" />
<path d="M771,546 L779.8,546 L779.8,566.4 L771,566.4 Z" fill="none" stroke="#35301f" stroke-width="1.9" stroke-linejoin="round" stroke-linecap="round" />
<path d="M779.8,550.5 L806,550 L808,555 L805,562 L799,564 L794,562 L790,559 L779.8,559.5" fill="none" stroke="#35301f" stroke-width="1.79" stroke-linejoin="round" stroke-linecap="round" />
<path d="M796,560 L797,567 L803,567" fill="none" stroke="#35301f" stroke-width="1.57" stroke-linejoin="round" stroke-linecap="round" />
<path d="M691.7,623.8 L796.7,623.8 L796.7,671 L691.7,673.9 Z" fill="none" stroke="#35301f" stroke-width="2.24" stroke-linejoin="round" stroke-linecap="round" />
<path d="M701,623.8 L701,673.5" fill="none" stroke="#35301f" stroke-width="2.02" stroke-linejoin="round" stroke-linecap="round" />
<path d="M692,636 L700,636 M692,640 L700,640 M692,660 L700,660 M692,664 L700,664" fill="none" stroke="#35301f" stroke-width="1.46" stroke-linejoin="round" stroke-linecap="round" />
<circle cx="733.7" cy="649.4" r="5.2" fill="none" stroke="#35301f" stroke-width="2"/>
<path d="M738.3,646.5 L772.2,646.5 M738.3,653.5 L772.2,653.5" fill="none" stroke="#35301f" stroke-width="2.02" stroke-linejoin="round" stroke-linecap="round" />
<path d="M772.2,639.5 L780.3,639.5 L780.3,660 L772.2,660 Z" fill="none" stroke="#35301f" stroke-width="1.9" stroke-linejoin="round" stroke-linecap="round" />
<path d="M780.3,644.5 L809.5,644.3 L809.5,653 L780.3,653.3" fill="none" stroke="#35301f" stroke-width="1.9" stroke-linejoin="round" stroke-linecap="round" />
<path d="M797,650 L798,660 L805,659 L806,653" fill="none" stroke="#35301f" stroke-width="1.57" stroke-linejoin="round" stroke-linecap="round" />
<path d="M808,644.5 L810,644.5 L810,653 L808,653" fill="none" stroke="#35301f" stroke-width="2.8" stroke-linejoin="round" stroke-linecap="round" />
<path d="M613.5,673.5 L616.5,673.2 L617,700 M613.5,673.5 L614.2,705 L592.5,740 C590.5,745 589.5,750 589.3,756.7 L588,775.3 L575,777 C573.5,778 574,783 575.5,784.7 L590,783.3 C594,782 595.8,777 596,772.7 L597.3,750 C597.5,744 599,741.7 600,740 L622.8,708.3 L622.5,700" fill="none" stroke="#35301f" stroke-width="2.02" stroke-linejoin="round" stroke-linecap="round" />
<path d="M750,700 L750.2,777 C750.2,780 752,781 755,781 C758,781 759.5,780 759.4,777 L759.2,700" fill="none" stroke="#35301f" stroke-width="2.02" stroke-linejoin="round" stroke-linecap="round" />
<path d="M884.5,665.5 L893.5,668 L895.1,698.2 L916.3,725.1 L926.1,766.7 L934,768 C936.5,769.5 937,773 936.7,779 L918.8,779.3 L917.1,770.8 L908.2,732.4 L884.5,694" fill="none" stroke="#35301f" stroke-width="2.02" stroke-linejoin="round" stroke-linecap="round" />
<path d="M355,1342.5 L355,1305 L560,1356 L658.3,1380.5" fill="none" stroke="#35301f" stroke-width="2.02" stroke-linejoin="round" stroke-linecap="round" />
<path d="M375,1342.5 L375.5,1325 L560,1369 L641,1385 L657.5,1400" fill="none" stroke="#35301f" stroke-width="2.02" stroke-linejoin="round" stroke-linecap="round" />
<path d="M355,1305 L375.5,1325" fill="none" stroke="#35301f" stroke-width="1.79" stroke-linejoin="round" stroke-linecap="round" />
<ellipse cx="365.3" cy="1362.5" rx="25.3" ry="20" fill="#e3d8b7" stroke="#35301f" stroke-width="1.9"/>
<path d="M340.5,1361.5 C355,1364 375,1364 390.5,1361.5" fill="none" stroke="#35301f" stroke-width="1.79" stroke-linejoin="round" stroke-linecap="round" />
<path d="M349,1381 L349,1396 M383.7,1381 L383.5,1396" fill="none" stroke="#35301f" stroke-width="2.02" stroke-linejoin="round" stroke-linecap="round" />
<path d="M270.3,1436.0 C272.9,1433.3 280.1,1424.9 286.0,1420.0 C291.9,1415.1 299.0,1410.1 306.0,1406.5 C313.0,1402.9 320.8,1400.4 328.0,1398.5 C335.2,1396.6 342.7,1395.7 349.0,1395.0 C355.3,1394.3 360.2,1394.2 366.0,1394.2 C371.8,1394.2 377.3,1394.2 383.5,1395.0 C389.7,1395.8 396.9,1397.1 403.0,1399.0 C409.1,1400.9 413.8,1403.0 420.0,1406.5 C426.2,1410.0 433.8,1415.0 440.0,1420.0 C446.2,1425.0 454.6,1433.8 457.5,1436.5" fill="none" stroke="#35301f" stroke-width="2.13" stroke-linejoin="round" stroke-linecap="round" />
<path d="M306.5,1407 C330,1418 350,1421.5 366,1421.5 C385,1421 405,1415 420,1407.5" fill="none" stroke="#35301f" stroke-width="2.02" stroke-linejoin="round" stroke-linecap="round" />
<path d="M308.5,1410 C331,1421 350,1424.5 366,1424.5 C385,1424 404,1418 418.5,1410.5" fill="none" stroke="#35301f" stroke-width="1.46" stroke-linejoin="round" stroke-linecap="round" />
<path d="M270.3,1436 C300,1447 330,1452 362.3,1453.5 C395,1453 425,1447 455.3,1438" fill="none" stroke="#35301f" stroke-width="2.13" stroke-linejoin="round" stroke-linecap="round" />
<path d="M270.3,1436 C275,1480 290,1515 305.8,1541.7 C330,1550 345,1553 362.3,1553 C385,1552 405,1550 423.7,1547.5 C440,1510 452,1470 455.3,1438 C456,1436 457.5,1436.5 457.5,1436.5" fill="none" stroke="#35301f" stroke-width="2.13" stroke-linejoin="round" stroke-linecap="round" />
<path d="M271,1434 C267,1430 266,1422 269,1417 C272,1412.5 279,1413 284,1418.5" fill="none" stroke="#35301f" stroke-width="2.02" stroke-linejoin="round" stroke-linecap="round" />
<path d="M273.5,1431 C271.5,1427 271.5,1421 273.5,1419 C276,1416.5 280,1417 282,1420" fill="none" stroke="#35301f" stroke-width="1.46" stroke-linejoin="round" stroke-linecap="round" />
<path d="M443,1418 C447,1412.5 455,1412 459.5,1416.5 C463,1421 462.5,1430 458,1437" fill="none" stroke="#35301f" stroke-width="2.02" stroke-linejoin="round" stroke-linecap="round" />
<path d="M445.5,1420.5 C448.5,1417 454,1416.5 457,1419.5 C459.5,1423 459,1429 456,1434" fill="none" stroke="#35301f" stroke-width="1.46" stroke-linejoin="round" stroke-linecap="round" />
<path d="M354,1436 L354,1449.7 L367,1449.7 L367,1436" fill="none" stroke="#35301f" stroke-width="1.9" stroke-linejoin="round" stroke-linecap="round" />
<ellipse cx="360.5" cy="1436" rx="6.5" ry="2.3" fill="none" stroke="#35301f" stroke-width="1.6"/>
<polyline points="661.9,1384.1 672.2,1384.8 682.5,1385.5 692.7,1386.2 702.7,1386.8 712.4,1387.3 721.8,1387.9 730.6,1388.4 738.9,1388.9 746.6,1389.4 753.5,1389.9 759.6,1390.3 764.9,1390.7 769.1,1391.2 772.5,1391.6 775.5,1392.4 778.1,1393.5 780.3,1394.8 781.9,1396.5 782.7,1398.7 782.5,1400.7 782.1,1402.3 781.3,1403.9 780.4,1405.3 779.1,1406.7 777.7,1408.0 776.1,1409.3 774.3,1410.5 772.3,1411.6 770.2,1412.7 767.8,1413.7 765.4,1414.7 762.7,1415.6 760.0,1416.4 757.1,1417.2 754.1,1417.9 751.0,1418.6 747.8,1419.2 744.6,1419.7 741.3,1420.2 737.9,1420.5 734.6,1420.8 731.2,1421.1 727.8,1421.3 724.5,1421.4 721.2,1421.4 717.9,1421.4 714.8,1421.2 711.7,1421.1 708.7,1420.8 705.8,1420.5 703.1,1420.2 700.5,1419.8 698.0,1419.3 695.7,1418.8 693.6,1418.2 691.6,1417.6 689.9,1416.9 688.3,1416.2 686.8,1415.4 685.6,1414.5 684.5,1413.6 683.7,1412.4 683.1,1411.1 682.9,1409.7 683.2,1408.2 683.8,1406.9 684.7,1405.8 685.7,1404.8 687.0,1404.0 688.5,1403.2 690.1,1402.5 691.9,1401.8 693.9,1401.2 696.0,1400.6 698.3,1400.1 700.8,1399.7 703.4,1399.3 706.2,1398.9 709.1,1398.6 712.1,1398.4 715.2,1398.2 718.4,1398.1 721.6,1398.1 724.9,1398.2 728.2,1398.3 731.6,1398.4 735.0,1398.7 738.3,1399.0 741.7,1399.4 745.0,1399.9 748.2,1400.4 751.4,1401.0 754.5,1401.6 757.5,1402.4 760.3,1403.2 763.1,1404.0 765.7,1404.9 768.2,1405.9 770.5,1406.9 772.6,1408.0 774.6,1409.2 776.3,1410.4 777.9,1411.6 779.3,1412.9 780.5,1414.3 781.5,1415.8 782.2,1417.4 782.6,1419.0 782.7,1420.7 782.5,1422.4 782.0,1424.0 781.2,1425.6 780.2,1427.0 779.0,1428.4 777.5,1429.7 775.9,1431.0 774.1,1432.1 772.1,1433.3 769.9,1434.3 767.5,1435.4 765.0,1436.3 762.4,1437.2 759.6,1438.0 756.7,1438.8 753.7,1439.5 750.6,1440.2 747.4,1440.8 744.1,1441.3 740.8,1441.7 737.5,1442.1 734.1,1442.4 730.8,1442.6 727.4,1442.8 724.1,1442.9 720.8,1442.9 717.5,1442.8 714.4,1442.7 711.3,1442.6 708.3,1442.3 705.5,1442.0 702.8,1441.6 700.2,1441.2 697.7,1440.7 695.5,1440.2 693.3,1439.6 691.4,1439.0 689.6,1438.3 688.1,1437.6 686.7,1436.8 685.4,1435.9 684.4,1434.9 683.6,1433.8 683.0,1432.4 682.9,1431.0 683.2,1429.5 683.9,1428.3 684.8,1427.2 685.9,1426.2 687.2,1425.4 688.7,1424.6 690.3,1423.9 692.1,1423.2 694.1,1422.6 696.3,1422.1 698.6,1421.6 701.1,1421.1 703.8,1420.7 706.6,1420.4 709.5,1420.1 712.5,1419.9 715.6,1419.7 718.8,1419.6 722.0,1419.6 725.3,1419.7 728.7,1419.8 732.0,1420.0 735.4,1420.2 738.8,1420.6 742.1,1421.0 745.4,1421.4 748.6,1422.0 751.8,1422.6 754.9,1423.2 757.8,1424.0 760.7,1424.8 763.4,1425.6 766.0,1426.6 768.5,1427.5 770.7,1428.6 772.9,1429.7 774.8,1430.8 776.6,1432.0 778.1,1433.3 779.5,1434.6 780.6,1436.0 781.6,1437.5 782.2,1439.1 782.6,1440.7 782.7,1442.4 782.5,1444.1 781.9,1445.7 781.1,1447.2 780.1,1448.7 778.8,1450.1 777.3,1451.4 775.7,1452.6 773.8,1453.8 771.8,1454.9 769.6,1456.0 767.2,1457.0 764.7,1457.9 762.0,1458.8 759.2,1459.6 756.3,1460.4 753.3,1461.1 750.2,1461.8 747.0,1462.3 743.7,1462.8 740.4,1463.3 737.1,1463.6 733.7,1463.9 730.3,1464.1 727.0,1464.3 723.6,1464.4 720.4,1464.4 717.1,1464.3 714.0,1464.2 710.9,1464.0 708.0,1463.8 705.1,1463.5 702.4,1463.1 699.8,1462.7 697.4,1462.2 695.2,1461.7 693.1,1461.1 691.2,1460.4 689.4,1459.7 687.9,1459.0 686.5,1458.2 685.3,1457.3 684.3,1456.3 683.5,1455.1 683.0,1453.8 682.9,1452.3 683.3,1450.9 684.0,1449.6 684.9,1448.5 686.1,1447.6 687.4,1446.8 688.9,1446.0 690.5,1445.3 692.4,1444.7 694.4,1444.1 696.6,1443.5 699.0,1443.0 701.5,1442.6 704.1,1442.2 706.9,1441.8 709.8,1441.6 712.9,1441.4 716.0,1441.2 719.2,1441.1 722.4,1441.1 725.8,1441.2 729.1,1441.3 732.5,1441.5 735.8,1441.8 739.2,1442.1 742.5,1442.5 745.8,1443.0 749.0,1443.5 752.2,1444.1 755.2,1444.8 758.2,1445.6 761.0,1446.4 763.8,1447.2 766.3,1448.2 768.8,1449.2 771.0,1450.2 773.1,1451.3 775.0,1452.5 776.8,1453.7 778.3,1454.9 779.6,1456.3 780.8,1457.7 781.7,1459.2 782.3,1460.8 782.6,1462.5 782.7,1464.1 782.4,1465.8 781.8,1467.4 781.0,1468.9 779.9,1470.4 778.6,1471.7 777.1,1473.0 775.5,1474.3 773.6,1475.4 771.5,1476.5 769.3,1477.6 766.9,1478.6 764.4,1479.5 761.7,1480.4 758.9,1481.2 755.9,1482.0 752.9,1482.7 749.8,1483.3 746.6,1483.9 743.3,1484.4 740.0,1484.8 736.6,1485.2 733.3,1485.4 729.9,1485.7 726.5,1485.8 723.2,1485.9 719.9,1485.9 716.7,1485.8 713.6,1485.7 710.5,1485.5 707.6,1485.2 704.8,1484.9 702.1,1484.5 699.5,1484.1 697.1,1483.6 694.9,1483.1 692.8,1482.5 690.9,1481.8 689.2,1481.2 687.7,1480.4 686.3,1479.6 685.2,1478.7 684.2,1477.7 683.4,1476.5 683.0,1475.1 682.9,1473.6 683.4,1472.2 684.1,1471.0 685.1,1469.9 686.2,1469.0 687.5,1468.2 689.1,1467.4 690.7,1466.7 692.6,1466.1 694.7,1465.5 696.9,1464.9 699.3,1464.4 701.8,1464.0 704.5,1463.6 707.3,1463.3 710.2,1463.0 713.3,1462.8 716.4,1462.7 719.6,1462.6 722.9,1462.6 726.2,1462.7 729.5,1462.8 732.9,1463.0 736.3,1463.3 739.6,1463.6 742.9,1464.1 746.2,1464.6 749.4,1465.1 752.6,1465.7 755.6,1466.4 758.6,1467.2 761.4,1468.0 764.1,1468.9 766.7,1469.8 769.1,1470.8 771.3,1471.8 773.4,1472.9 775.3,1474.1 777.0,1475.3 778.5,1476.6 779.8,1478.0 780.9,1479.4 781.8,1480.9 782.4,1482.5 782.7,1484.2 782.7,1485.9 782.3,1487.5 781.7,1489.1 780.9,1490.6 779.8,1492.1 778.5,1493.4 776.9,1494.7 775.2,1495.9 773.3,1497.1 771.3,1498.2 769.0,1499.2 766.6,1500.2 764.0,1501.2 761.3,1502.0 758.5,1502.8 755.6,1503.6 752.5,1504.3 749.4,1504.9 746.2,1505.5 742.9,1505.9 739.6,1506.4 736.2,1506.7 732.8,1507.0 729.5,1507.2 726.1,1507.3 722.8,1507.4 719.5,1507.4 716.3,1507.3 713.2,1507.2 710.2,1507.0 707.2,1506.7 704.4,1506.4 701.7,1506.0 699.2,1505.5 696.8,1505.1 694.6,1504.5 692.6,1503.9 690.7,1503.3 689.0,1502.6 687.5,1501.8 686.2,1501.0 685.0,1500.1 684.1,1499.0 683.3,1497.8 682.9,1496.4 683.0,1494.9 683.4,1493.5 684.2,1492.3 685.2,1491.3 686.4,1490.4 687.7,1489.6 689.3,1488.8 691.0,1488.1 692.9,1487.5 694.9,1486.9 697.2,1486.4 699.6,1485.9 702.1,1485.4 704.8,1485.1 707.7,1484.8 710.6,1484.5 713.7,1484.3 716.8,1484.2 720.0,1484.1 723.3,1484.1 726.6,1484.2 730.0,1484.3 733.3,1484.6 736.7,1484.8 740.0,1485.2 743.4,1485.6 746.6,1486.1 749.8,1486.7 753.0,1487.3 756.0,1488.0 758.9,1488.8 761.8,1489.6 764.4,1490.5 767.0,1491.4 769.4,1492.4 771.6,1493.5 773.6,1494.6 775.5,1495.8 777.2,1497.0 778.7,1498.3 779.9,1499.6 781.0,1501.1 781.8,1502.6 782.4,1504.2 782.7,1505.9 782.6,1507.6 782.3,1509.2 781.6,1510.8 780.7,1512.3 779.6,1513.7 778.3,1515.1 776.7,1516.4 775.0,1517.6 773.1,1518.7 771.0,1519.8 768.7,1520.9 766.3,1521.8 763.7,1522.8 761.0,1523.6 758.1,1524.4 755.2,1525.2 752.1,1525.9 749.0,1526.5 745.7,1527.0 742.5,1527.5 739.1,1527.9 735.8,1528.2 732.4,1528.5 729.0,1528.7 725.7,1528.8 722.4,1528.9 719.1,1528.9 715.9,1528.8 712.8,1528.6 709.8,1528.4 706.9,1528.2 704.1,1527.8 701.4,1527.4 698.9,1527.0 696.5,1526.5 694.4,1525.9 692.3,1525.3 690.5,1524.7 688.8,1524.0 687.3,1523.2 686.0,1522.4 684.9,1521.4 684.0,1520.4 683.3,1519.1 682.9,1517.7 683.0,1516.2 683.5,1514.9 684.3,1513.7 685.3,1512.7 686.5,1511.8 687.9,1511.0 689.5,1510.2 691.2,1509.6 693.1,1508.9 695.2,1508.3 697.5,1507.8 699.9,1507.3 702.5,1506.9 705.2,1506.5 708.0,1506.2 711.0,1506.0 714.0,1505.8 717.2,1505.7 720.4,1505.6 723.7,1505.6 727.0,1505.7 730.4,1505.9 733.8,1506.1 737.1,1506.4 740.5,1506.7 743.8,1507.2 747.1,1507.7 750.2,1508.3 753.4,1508.9 756.4,1509.6 759.3,1510.4 762.1,1511.2 764.8,1512.1 767.1,1513.0 770.0,1513.6 773.2,1514.3 776.5,1514.8 780.0,1515.4 783.5,1516.0 787.1,1516.7 790.7,1517.3 794.4,1518.1 797.9,1519.1 801.4,1520.1 804.8,1521.4 808.0,1522.8" fill="none" stroke="#35301f" stroke-width="2.0" stroke-dasharray="2.8 1.6" stroke-linecap="butt"/>
<polyline points="661.5,1388.9 671.9,1389.6 682.2,1390.3 692.4,1391.0 702.4,1391.6 712.2,1392.1 721.5,1392.7 730.3,1393.2 738.6,1393.7 746.3,1394.2 753.2,1394.6 759.3,1395.1 764.4,1395.5 768.6,1396.0 771.5,1396.4 774.1,1397.0 776.0,1397.8 777.4,1398.6 777.9,1399.1 777.9,1399.3 777.8,1399.8 777.6,1400.6 777.2,1401.5 776.6,1402.4 775.7,1403.4 774.6,1404.4 773.3,1405.4 771.8,1406.4 770.1,1407.4 768.1,1408.4 766.0,1409.3 763.7,1410.2 761.3,1411.0 758.6,1411.8 755.9,1412.6 753.0,1413.3 750.1,1413.9 747.0,1414.5 743.9,1415.0 740.7,1415.4 737.4,1415.8 734.2,1416.1 730.9,1416.3 727.6,1416.5 724.4,1416.6 721.2,1416.6 718.1,1416.6 715.0,1416.5 712.0,1416.3 709.1,1416.1 706.4,1415.8 703.8,1415.4 701.3,1415.1 699.0,1414.6 696.9,1414.1 694.9,1413.6 693.2,1413.1 691.7,1412.5 690.4,1411.9 689.4,1411.3 688.6,1410.8 688.1,1410.3 687.8,1410.0 687.7,1409.8 687.7,1409.7 687.7,1409.7 687.8,1409.5 688.1,1409.1 688.7,1408.6 689.5,1408.1 690.6,1407.5 691.9,1406.9 693.4,1406.4 695.2,1405.8 697.1,1405.3 699.3,1404.8 701.6,1404.4 704.1,1404.0 706.7,1403.7 709.5,1403.4 712.4,1403.2 715.4,1403.0 718.5,1402.9 721.6,1402.9 724.8,1402.9 728.0,1403.1 731.3,1403.2 734.6,1403.5 737.8,1403.8 741.1,1404.2 744.3,1404.6 747.4,1405.1 750.4,1405.7 753.4,1406.3 756.3,1407.0 759.0,1407.8 761.6,1408.6 764.0,1409.4 766.3,1410.3 768.4,1411.3 770.3,1412.2 772.0,1413.2 773.5,1414.2 774.8,1415.2 775.8,1416.2 776.6,1417.2 777.2,1418.1 777.6,1419.0 777.8,1419.8 777.9,1420.6 777.8,1421.4 777.5,1422.2 777.1,1423.1 776.5,1424.0 775.6,1425.0 774.5,1426.0 773.1,1427.0 771.6,1428.0 769.8,1429.0 767.9,1430.0 765.7,1430.9 763.4,1431.8 760.9,1432.6 758.3,1433.4 755.5,1434.2 752.7,1434.8 749.7,1435.5 746.6,1436.0 743.4,1436.5 740.2,1436.9 737.0,1437.3 733.7,1437.6 730.5,1437.8 727.2,1438.0 724.0,1438.1 720.8,1438.1 717.7,1438.0 714.6,1437.9 711.6,1437.8 708.8,1437.5 706.1,1437.2 703.5,1436.9 701.0,1436.5 698.7,1436.1 696.6,1435.6 694.7,1435.0 693.0,1434.5 691.5,1433.9 690.3,1433.3 689.2,1432.8 688.5,1432.2 688.0,1431.8 687.8,1431.4 687.7,1431.3 687.7,1431.2 687.7,1431.2 687.8,1431.0 688.2,1430.6 688.8,1430.1 689.6,1429.5 690.7,1428.9 692.1,1428.4 693.6,1427.8 695.4,1427.3 697.4,1426.7 699.6,1426.3 701.9,1425.8 704.4,1425.5 707.1,1425.1 709.9,1424.9 712.8,1424.7 715.8,1424.5 718.8,1424.4 722.0,1424.4 725.2,1424.5 728.5,1424.6 731.7,1424.8 735.0,1425.0 738.2,1425.3 741.5,1425.7 744.7,1426.2 747.8,1426.7 750.8,1427.3 753.8,1427.9 756.6,1428.6 759.3,1429.4 761.9,1430.2 764.3,1431.0 766.6,1431.9 768.7,1432.9 770.5,1433.9 772.2,1434.9 773.7,1435.9 774.9,1436.9 775.9,1437.9 776.7,1438.8 777.3,1439.7 777.7,1440.6 777.9,1441.4 777.9,1442.2 777.8,1443.0 777.5,1443.8 777.0,1444.7 776.4,1445.7 775.5,1446.6 774.3,1447.6 773.0,1448.7 771.4,1449.7 769.6,1450.6 767.6,1451.6 765.4,1452.5 763.1,1453.4 760.6,1454.2 758.0,1455.0 755.2,1455.8 752.3,1456.4 749.3,1457.0 746.2,1457.6 743.0,1458.1 739.8,1458.5 736.6,1458.8 733.3,1459.1 730.1,1459.3 726.8,1459.5 723.6,1459.6 720.4,1459.6 717.3,1459.5 714.2,1459.4 711.3,1459.2 708.4,1459.0 705.7,1458.7 703.1,1458.3 700.7,1457.9 698.4,1457.5 696.4,1457.0 694.5,1456.5 692.8,1455.9 691.3,1455.3 690.1,1454.8 689.1,1454.2 688.4,1453.7 688.0,1453.2 687.8,1452.9 687.7,1452.8 687.7,1452.7 687.7,1452.7 687.9,1452.4 688.2,1452.0 688.8,1451.5 689.7,1450.9 690.9,1450.4 692.2,1449.8 693.8,1449.2 695.7,1448.7 697.7,1448.2 699.9,1447.7 702.2,1447.3 704.8,1446.9 707.4,1446.6 710.2,1446.3 713.1,1446.1 716.2,1446.0 719.2,1445.9 722.4,1445.9 725.6,1446.0 728.9,1446.1 732.1,1446.3 735.4,1446.5 738.7,1446.9 741.9,1447.3 745.1,1447.7 748.2,1448.3 751.2,1448.8 754.1,1449.5 757.0,1450.2 759.7,1451.0 762.2,1451.8 764.6,1452.7 766.9,1453.6 768.9,1454.5 770.8,1455.5 772.4,1456.5 773.9,1457.5 775.1,1458.5 776.1,1459.5 776.8,1460.4 777.4,1461.4 777.7,1462.2 777.9,1463.0 777.9,1463.8 777.8,1464.6 777.5,1465.4 777.0,1466.3 776.3,1467.3 775.3,1468.3 774.2,1469.3 772.8,1470.3 771.2,1471.3 769.4,1472.3 767.3,1473.2 765.2,1474.1 762.8,1475.0 760.3,1475.8 757.6,1476.6 754.8,1477.3 751.9,1478.0 748.9,1478.6 745.8,1479.2 742.6,1479.6 739.4,1480.0 736.2,1480.4 732.9,1480.7 729.6,1480.9 726.4,1481.0 723.2,1481.1 720.0,1481.1 716.9,1481.0 713.8,1480.9 710.9,1480.7 708.1,1480.5 705.4,1480.2 702.8,1479.8 700.4,1479.4 698.2,1478.9 696.1,1478.4 694.3,1477.9 692.6,1477.3 691.2,1476.8 690.0,1476.2 689.0,1475.6 688.3,1475.1 687.9,1474.7 687.7,1474.4 687.7,1474.3 687.7,1474.2 687.7,1474.1 687.9,1473.9 688.3,1473.5 688.9,1472.9 689.9,1472.4 691.0,1471.8 692.4,1471.2 694.1,1470.7 695.9,1470.1 697.9,1469.6 700.2,1469.2 702.6,1468.7 705.1,1468.4 707.8,1468.1 710.6,1467.8 713.5,1467.6 716.5,1467.5 719.6,1467.4 722.8,1467.4 726.0,1467.5 729.3,1467.6 732.6,1467.8 735.8,1468.1 739.1,1468.4 742.3,1468.8 745.5,1469.3 748.6,1469.8 751.6,1470.4 754.5,1471.1 757.3,1471.8 760.0,1472.6 762.5,1473.4 764.9,1474.3 767.1,1475.2 769.2,1476.1 771.0,1477.1 772.6,1478.1 774.0,1479.1 775.2,1480.1 776.2,1481.1 776.9,1482.1 777.4,1483.0 777.7,1483.8 777.9,1484.6 777.9,1485.4 777.7,1486.2 777.4,1487.0 776.9,1488.0 776.1,1488.9 775.2,1489.9 774.0,1490.9 772.6,1491.9 770.9,1492.9 769.1,1493.9 767.1,1494.8 764.9,1495.7 762.5,1496.6 759.9,1497.4 757.3,1498.2 754.4,1498.9 751.5,1499.6 748.5,1500.2 745.4,1500.7 742.2,1501.2 739.0,1501.6 735.8,1501.9 732.5,1502.2 729.2,1502.4 726.0,1502.5 722.8,1502.6 719.6,1502.6 716.5,1502.5 713.5,1502.4 710.5,1502.2 707.7,1501.9 705.0,1501.6 702.5,1501.2 700.1,1500.8 697.9,1500.4 695.9,1499.9 694.0,1499.3 692.4,1498.8 691.0,1498.2 689.8,1497.6 688.9,1497.0 688.3,1496.5 687.9,1496.1 687.7,1495.9 687.7,1495.8 687.7,1495.7 687.7,1495.6 687.9,1495.3 688.4,1494.9 689.0,1494.4 690.0,1493.8 691.2,1493.2 692.6,1492.6 694.3,1492.1 696.2,1491.6 698.2,1491.1 700.5,1490.6 702.9,1490.2 705.4,1489.8 708.1,1489.5 711.0,1489.3 713.9,1489.1 716.9,1489.0 720.0,1488.9 723.2,1488.9 726.5,1489.0 729.7,1489.1 733.0,1489.3 736.2,1489.6 739.5,1490.0 742.7,1490.4 745.9,1490.9 749.0,1491.4 752.0,1492.0 754.9,1492.7 757.7,1493.4 760.3,1494.2 762.8,1495.0 765.2,1495.9 767.4,1496.8 769.4,1497.8 771.2,1498.7 772.8,1499.7 774.2,1500.7 775.3,1501.8 776.3,1502.7 777.0,1503.7 777.5,1504.6 777.8,1505.4 777.9,1506.2 777.9,1507.0 777.7,1507.8 777.3,1508.7 776.8,1509.6 776.0,1510.5 775.0,1511.5 773.8,1512.5 772.4,1513.5 770.7,1514.5 768.9,1515.5 766.8,1516.5 764.6,1517.4 762.2,1518.2 759.6,1519.0 756.9,1519.8 754.1,1520.5 751.1,1521.2 748.1,1521.8 745.0,1522.3 741.8,1522.7 738.6,1523.1 735.3,1523.5 732.1,1523.7 728.8,1523.9 725.6,1524.0 722.3,1524.1 719.2,1524.1 716.1,1524.0 713.1,1523.9 710.2,1523.7 707.4,1523.4 704.7,1523.1 702.2,1522.7 699.8,1522.3 697.6,1521.8 695.6,1521.3 693.8,1520.8 692.2,1520.2 690.8,1519.6 689.7,1519.0 688.8,1518.5 688.2,1518.0 687.9,1517.6 687.7,1517.3 687.7,1517.3 687.7,1517.2 687.8,1517.1 688.0,1516.8 688.4,1516.3 689.2,1515.8 690.1,1515.2 691.4,1514.6 692.8,1514.1 694.5,1513.5 696.4,1513.0 698.5,1512.5 700.8,1512.0 703.2,1511.6 705.8,1511.3 708.5,1511.0 711.3,1510.8 714.3,1510.6 717.3,1510.5 720.5,1510.4 723.6,1510.4 726.9,1510.5 730.1,1510.7 733.4,1510.9 736.7,1511.2 739.9,1511.5 743.1,1511.9 746.3,1512.4 749.3,1513.0 752.3,1513.6 755.2,1514.3 758.0,1515.0 760.7,1515.8 763.2,1516.6 765.7,1517.6 769.0,1518.3 772.3,1519.0 775.7,1519.6 779.2,1520.2 782.7,1520.7 786.3,1521.4 789.8,1522.1 793.2,1522.8 796.6,1523.7 799.9,1524.7 803.0,1525.8 806.0,1527.2" fill="none" stroke="#35301f" stroke-width="2.0" stroke-dasharray="2.8 1.6" stroke-linecap="butt"/>
<ellipse cx="733" cy="1362.5" rx="74.8" ry="16" fill="none" stroke="#35301f" stroke-width="1.9"/>
<path d="M658.3,1363 L659.8,1541.7 C690,1550 710,1552 733,1551.7 C760,1551 790,1545 809,1538 L808,1362" fill="none" stroke="#35301f" stroke-width="2.13" stroke-linejoin="round" stroke-linecap="round" />
<ellipse cx="731" cy="1325.5" rx="19.2" ry="4.2" fill="#e3d8b7" stroke="#35301f" stroke-width="1.8"/>
<path d="M711.8,1325.5 L723.3,1350 M750.2,1325.5 L735.8,1350" fill="none" stroke="#35301f" stroke-width="2.02" stroke-linejoin="round" stroke-linecap="round" />
<path d="M723.3,1350 L723.5,1377.5 M735.8,1350 L735.6,1377.5" fill="none" stroke="#35301f" stroke-width="2.02" stroke-linejoin="round" stroke-linecap="round" />
<path d="M723.3,1350 L735.8,1350" fill="none" stroke="#35301f" stroke-width="1.57" stroke-linejoin="round" stroke-linecap="round" />
<path d="M809,1521.7 L826,1527 L830,1530 L829.5,1547 L825,1548 L824,1533 L809,1530" fill="none" stroke="#35301f" stroke-width="1.9" stroke-linejoin="round" stroke-linecap="round" />
<path d="M826,1527 L824,1533" fill="none" stroke="#35301f" stroke-width="1.46" stroke-linejoin="round" stroke-linecap="round" />
<path d="M733.5,1441 C730.8,1443 730.8,1454 733.5,1456 C736.2,1454 736.2,1443 733.5,1441 Z" fill="#e3d8b7" stroke="#35301f" stroke-width="1.79" stroke-linejoin="round" stroke-linecap="round" />
<path d="M736,1446.5 C742,1445.5 748,1445 752,1445 M736,1451 C742,1451.5 748,1451.5 752.5,1451.5" fill="none" stroke="#35301f" stroke-width="1.79" stroke-linejoin="round" stroke-linecap="round" />
<path d="M750.5,1443 L760.5,1442.2 L760.5,1445.2 L756.5,1445.6 L757,1451.5 L761.5,1456.5 L758.5,1459 L752.5,1453" fill="none" stroke="#35301f" stroke-width="1.79" stroke-linejoin="round" stroke-linecap="round" /></svg>
<svg id="dots" width="1200" height="1715" viewBox="0 0 1200 1715" fill="#35301f"><path d="M594.5,128.5 L600.5,121 L602.5,121.5 L601.8,139 C601.5,141.5 599,142.5 596,142 L593.5,141.5 L595.5,139.5 C597,139.5 597.8,138.5 597.8,137 L598.2,127 Z"/><circle cx="403.2" cy="913.6" r="1.95"/><circle cx="413.9" cy="913.6" r="1.95"/><circle cx="424.6" cy="913.6" r="1.95"/><path d="M425.8,913.6 Q425.8,917.6 423.1,919.6" stroke="#35301f" stroke-width="1.3" fill="none"/><circle cx="435.2" cy="913.6" r="1.95"/><circle cx="445.9" cy="913.6" r="1.95"/><circle cx="456.6" cy="913.6" r="1.95"/><circle cx="467.3" cy="913.6" r="1.95"/><circle cx="477.9" cy="913.6" r="1.95"/><circle cx="488.6" cy="913.6" r="1.95"/><circle cx="499.3" cy="913.6" r="1.95"/><circle cx="774.7" cy="913.6" r="1.95"/><circle cx="786.5" cy="913.6" r="1.95"/><circle cx="798.4" cy="913.6" r="1.95"/><circle cx="810.2" cy="913.6" r="1.95"/><circle cx="822.0" cy="913.6" r="1.95"/><circle cx="833.8" cy="913.6" r="1.95"/><circle cx="845.6" cy="913.6" r="1.95"/><circle cx="857.5" cy="913.6" r="1.95"/><circle cx="869.3" cy="913.6" r="1.95"/><circle cx="404.1" cy="947.6" r="1.95"/><circle cx="416.1" cy="947.6" r="1.95"/><circle cx="428.1" cy="947.6" r="1.95"/><circle cx="440.2" cy="947.6" r="1.95"/><circle cx="452.2" cy="947.6" r="1.95"/><circle cx="464.2" cy="947.6" r="1.95"/><circle cx="476.2" cy="947.6" r="1.95"/><circle cx="488.3" cy="947.6" r="1.95"/><circle cx="500.3" cy="947.6" r="1.95"/><circle cx="773.7" cy="947.6" r="1.95"/><circle cx="785.7" cy="947.6" r="1.95"/><circle cx="797.6" cy="947.6" r="1.95"/><circle cx="809.5" cy="947.6" r="1.95"/><circle cx="821.5" cy="947.6" r="1.95"/><circle cx="833.5" cy="947.6" r="1.95"/><circle cx="845.4" cy="947.6" r="1.95"/><circle cx="857.3" cy="947.6" r="1.95"/><circle cx="869.3" cy="947.6" r="1.95"/><circle cx="404.1" cy="981.6" r="1.95"/><circle cx="416.1" cy="981.6" r="1.95"/><circle cx="428.1" cy="981.6" r="1.95"/><circle cx="440.2" cy="981.6" r="1.95"/><circle cx="452.2" cy="981.6" r="1.95"/><circle cx="464.2" cy="981.6" r="1.95"/><circle cx="476.2" cy="981.6" r="1.95"/><circle cx="488.3" cy="981.6" r="1.95"/><circle cx="500.3" cy="981.6" r="1.95"/><circle cx="774.7" cy="981.6" r="1.95"/><circle cx="786.7" cy="981.6" r="1.95"/><circle cx="798.6" cy="981.6" r="1.95"/><circle cx="810.5" cy="981.6" r="1.95"/><circle cx="822.5" cy="981.6" r="1.95"/><circle cx="834.5" cy="981.6" r="1.95"/><circle cx="846.4" cy="981.6" r="1.95"/><circle cx="858.3" cy="981.6" r="1.95"/><circle cx="870.3" cy="981.6" r="1.95"/><circle cx="404.7" cy="1015.6" r="1.95"/><circle cx="416.6" cy="1015.6" r="1.95"/><circle cx="428.6" cy="1015.6" r="1.95"/><circle cx="440.6" cy="1015.6" r="1.95"/><circle cx="452.5" cy="1015.6" r="1.95"/><circle cx="464.4" cy="1015.6" r="1.95"/><circle cx="476.4" cy="1015.6" r="1.95"/><circle cx="488.4" cy="1015.6" r="1.95"/><circle cx="500.3" cy="1015.6" r="1.95"/><circle cx="776.7" cy="1015.6" r="1.95"/><circle cx="788.4" cy="1015.6" r="1.95"/><circle cx="800.1" cy="1015.6" r="1.95"/><circle cx="811.8" cy="1015.6" r="1.95"/><circle cx="823.5" cy="1015.6" r="1.95"/><circle cx="835.2" cy="1015.6" r="1.95"/><circle cx="846.9" cy="1015.6" r="1.95"/><circle cx="858.6" cy="1015.6" r="1.95"/><circle cx="870.3" cy="1015.6" r="1.95"/><circle cx="418.2" cy="1049.6" r="1.95"/><circle cx="429.9" cy="1049.6" r="1.95"/><circle cx="441.7" cy="1049.6" r="1.95"/><circle cx="453.4" cy="1049.6" r="1.95"/><circle cx="465.1" cy="1049.6" r="1.95"/><circle cx="476.8" cy="1049.6" r="1.95"/><circle cx="488.6" cy="1049.6" r="1.95"/><circle cx="500.3" cy="1049.6" r="1.95"/><circle cx="776.7" cy="1049.6" r="1.95"/><circle cx="788.4" cy="1049.6" r="1.95"/><circle cx="800.1" cy="1049.6" r="1.95"/><circle cx="811.8" cy="1049.6" r="1.95"/><circle cx="823.5" cy="1049.6" r="1.95"/><circle cx="835.2" cy="1049.6" r="1.95"/><circle cx="846.9" cy="1049.6" r="1.95"/><circle cx="858.6" cy="1049.6" r="1.95"/><circle cx="870.3" cy="1049.6" r="1.95"/><circle cx="406.2" cy="1083.6" r="1.95"/><circle cx="418.1" cy="1083.6" r="1.95"/><circle cx="430.1" cy="1083.6" r="1.95"/><circle cx="442.1" cy="1083.6" r="1.95"/><circle cx="454.0" cy="1083.6" r="1.95"/><circle cx="465.9" cy="1083.6" r="1.95"/><circle cx="477.9" cy="1083.6" r="1.95"/><circle cx="489.9" cy="1083.6" r="1.95"/><circle cx="501.8" cy="1083.6" r="1.95"/><circle cx="776.7" cy="1083.6" r="1.95"/><circle cx="788.4" cy="1083.6" r="1.95"/><circle cx="800.1" cy="1083.6" r="1.95"/><circle cx="811.8" cy="1083.6" r="1.95"/><circle cx="823.5" cy="1083.6" r="1.95"/><circle cx="835.2" cy="1083.6" r="1.95"/><circle cx="846.9" cy="1083.6" r="1.95"/><circle cx="858.6" cy="1083.6" r="1.95"/><circle cx="870.3" cy="1083.6" r="1.95"/><circle cx="407.7" cy="1117.6" r="1.95"/><circle cx="419.6" cy="1117.6" r="1.95"/><circle cx="431.6" cy="1117.6" r="1.95"/><circle cx="443.6" cy="1117.6" r="1.95"/><circle cx="455.5" cy="1117.6" r="1.95"/><circle cx="467.4" cy="1117.6" r="1.95"/><circle cx="479.4" cy="1117.6" r="1.95"/><circle cx="491.4" cy="1117.6" r="1.95"/><circle cx="503.3" cy="1117.6" r="1.95"/><circle cx="777.7" cy="1117.6" r="1.95"/><circle cx="789.4" cy="1117.6" r="1.95"/><circle cx="801.1" cy="1117.6" r="1.95"/><circle cx="812.8" cy="1117.6" r="1.95"/><circle cx="824.5" cy="1117.6" r="1.95"/><circle cx="836.2" cy="1117.6" r="1.95"/><circle cx="847.9" cy="1117.6" r="1.95"/><circle cx="859.6" cy="1117.6" r="1.95"/><circle cx="871.3" cy="1117.6" r="1.95"/><circle cx="758.7" cy="1151.0" r="1.95"/><circle cx="770.5" cy="1151.0" r="1.95"/><circle cx="782.3" cy="1151.0" r="1.95"/><circle cx="794.1" cy="1151.0" r="1.95"/><circle cx="805.9" cy="1151.0" r="1.95"/><circle cx="817.8" cy="1151.0" r="1.95"/><circle cx="829.6" cy="1151.0" r="1.95"/><circle cx="841.4" cy="1151.0" r="1.95"/><circle cx="853.2" cy="1151.0" r="1.95"/><circle cx="865.0" cy="1151.0" r="1.95"/><circle cx="876.8" cy="1151.0" r="1.95"/><circle cx="758.7" cy="1184.8" r="1.95"/><circle cx="770.4" cy="1184.8" r="1.95"/><circle cx="782.0" cy="1184.8" r="1.95"/><circle cx="793.7" cy="1184.8" r="1.95"/><circle cx="805.3" cy="1184.8" r="1.95"/><circle cx="817.0" cy="1184.8" r="1.95"/><circle cx="828.7" cy="1184.8" r="1.95"/><circle cx="840.3" cy="1184.8" r="1.95"/><circle cx="852.0" cy="1184.8" r="1.95"/><circle cx="863.6" cy="1184.8" r="1.95"/><circle cx="875.3" cy="1184.8" r="1.95"/><circle cx="760.2" cy="1218.1" r="1.95"/><circle cx="771.9" cy="1218.1" r="1.95"/><circle cx="783.5" cy="1218.1" r="1.95"/><circle cx="795.2" cy="1218.1" r="1.95"/><circle cx="806.8" cy="1218.1" r="1.95"/><circle cx="818.5" cy="1218.1" r="1.95"/><circle cx="830.2" cy="1218.1" r="1.95"/><circle cx="841.8" cy="1218.1" r="1.95"/><circle cx="853.5" cy="1218.1" r="1.95"/><circle cx="865.1" cy="1218.1" r="1.95"/><circle cx="876.8" cy="1218.1" r="1.95"/><circle cx="658.2" cy="1284.6" r="1.95"/><circle cx="671.1" cy="1284.6" r="1.95"/><circle cx="683.9" cy="1284.6" r="1.95"/><circle cx="696.8" cy="1284.6" r="1.95"/><circle cx="709.6" cy="1284.6" r="1.95"/><circle cx="722.5" cy="1284.6" r="1.95"/><circle cx="735.4" cy="1284.6" r="1.95"/><circle cx="748.2" cy="1284.6" r="1.95"/><circle cx="761.1" cy="1284.6" r="1.95"/><circle cx="773.9" cy="1284.6" r="1.95"/><circle cx="786.8" cy="1284.6" r="1.95"/><circle cx="799.6" cy="1284.6" r="1.95"/><circle cx="812.5" cy="1284.6" r="1.95"/><circle cx="825.4" cy="1284.6" r="1.95"/><circle cx="838.2" cy="1284.6" r="1.95"/><circle cx="851.1" cy="1284.6" r="1.95"/><circle cx="863.9" cy="1284.6" r="1.95"/><circle cx="876.8" cy="1284.6" r="1.95"/><path d="M625.2,902 L624.6,1124" stroke="#35301f" stroke-width="1.7"/></svg>
<div class="t b" style="left:606.5px;top:117.5px;font-size:31px;line-height:31px;-webkit-text-stroke:0.9px #2f2b1d;">3</div>
<div class="t b" style="left:593px;top:792.5px;font-size:21px;line-height:21px;">Fig. 52.</div>
<div class="j" style="left:255.2px;width:724.8px;top:827.1px;"><b>S</b>tills, copper, portable, best make, with pewter worm, tub, iron</div>
<div class="j" style="left:281.0px;width:345.0px;top:861.3px;">frame and furnace, complete,—</div>
<div class="t" style="left:295px;top:895.1px;">2-gallon</div>
<div class="t" style="right:664.5px;top:895.1px;">5</div>
<div class="t" style="right:627px;top:895.1px;">5</div>
<div class="t" style="right:587.5px;top:895.1px;">0</div>
<div class="t" style="left:652px;top:895.1px;">10-gallon</div>
<div class="t" style="right:296px;top:895.1px;">13</div>
<div class="t" style="right:257px;top:895.1px;">13</div>
<div class="t" style="right:218px;top:895.1px;">0</div>
<div class="t" style="left:296px;top:929.1px;">3</div>
<div class="t" style="left:348px;top:928.5px;font-size:28px;letter-spacing:1px;">,,</div>
<div class="t" style="right:664.5px;top:929.1px;">6</div>
<div class="t" style="right:627px;top:929.1px;">6</div>
<div class="t" style="right:587.5px;top:929.1px;">0</div>
<div class="t" style="left:652px;top:929.1px;">12</div>
<div class="t" style="left:717px;top:928.5px;font-size:28px;letter-spacing:1px;">,,</div>
<div class="t" style="right:296px;top:929.1px;">15</div>
<div class="t" style="right:257px;top:929.1px;">15</div>
<div class="t" style="right:218px;top:929.1px;">0</div>
<div class="t" style="left:296px;top:963.1px;">4</div>
<div class="t" style="left:348px;top:962.5px;font-size:28px;letter-spacing:1px;">,,</div>
<div class="t" style="right:664.5px;top:963.1px;">7</div>
<div class="t" style="right:627px;top:963.1px;">7</div>
<div class="t" style="right:587.5px;top:963.1px;">0</div>
<div class="t" style="left:652px;top:963.1px;">15</div>
<div class="t" style="left:717px;top:962.5px;font-size:28px;letter-spacing:1px;">,,</div>
<div class="t" style="right:296px;top:963.1px;">18</div>
<div class="t" style="right:257px;top:963.1px;">18</div>
<div class="t" style="right:218px;top:963.1px;">0</div>
<div class="t" style="left:296px;top:997.1px;">5</div>
<div class="t" style="left:348px;top:996.5px;font-size:28px;letter-spacing:1px;">,,</div>
<div class="t" style="right:664.5px;top:997.1px;">8</div>
<div class="t" style="right:627px;top:997.1px;">8</div>
<div class="t" style="right:587.5px;top:997.1px;">0</div>
<div class="t" style="left:652px;top:997.1px;">18</div>
<div class="t" style="left:717px;top:996.5px;font-size:28px;letter-spacing:1px;">,,</div>
<div class="t" style="right:296px;top:997.1px;">22</div>
<div class="t" style="right:257px;top:997.1px;">0</div>
<div class="t" style="right:218px;top:997.1px;">0</div>
<div class="t" style="left:296px;top:1031.1px;">6</div>
<div class="t" style="left:348px;top:1030.5px;font-size:28px;letter-spacing:1px;">,,</div>
<div class="t" style="right:664.5px;top:1031.1px;">9</div>
<div class="t" style="right:627px;top:1031.1px;">9</div>
<div class="t" style="right:587.5px;top:1031.1px;">0</div>
<div class="t" style="left:652px;top:1031.1px;">20</div>
<div class="t" style="left:717px;top:1030.5px;font-size:28px;letter-spacing:1px;">,,</div>
<div class="t" style="right:296px;top:1031.1px;">24</div>
<div class="t" style="right:257px;top:1031.1px;">0</div>
<div class="t" style="right:218px;top:1031.1px;">0</div>
<div class="t" style="left:296px;top:1065.1px;">7</div>
<div class="t" style="left:348px;top:1064.5px;font-size:28px;letter-spacing:1px;">,,</div>
<div class="t" style="right:664.5px;top:1065.1px;">10</div>
<div class="t" style="right:627px;top:1065.1px;">10</div>
<div class="t" style="right:587.5px;top:1065.1px;">0</div>
<div class="t" style="left:652px;top:1065.1px;">25</div>
<div class="t" style="left:717px;top:1064.5px;font-size:28px;letter-spacing:1px;">,,</div>
<div class="t" style="right:296px;top:1065.1px;">30</div>
<div class="t" style="right:257px;top:1065.1px;">0</div>
<div class="t" style="right:218px;top:1065.1px;">0</div>
<div class="t" style="left:296px;top:1099.1px;">8</div>
<div class="t" style="left:348px;top:1098.5px;font-size:28px;letter-spacing:1px;">,,</div>
<div class="t" style="right:664.5px;top:1099.1px;">11</div>
<div class="t" style="right:627px;top:1099.1px;">11</div>
<div class="t" style="right:587.5px;top:1099.1px;">0</div>
<div class="t" style="left:652px;top:1099.1px;">30</div>
<div class="t" style="left:717px;top:1098.5px;font-size:28px;letter-spacing:1px;">,,</div>
<div class="t" style="right:296px;top:1099.1px;">35</div>
<div class="t" style="right:257px;top:1099.1px;">0</div>
<div class="t" style="right:218px;top:1099.1px;">0</div>
<div class="j" style="left:286.5px;width:453.5px;top:1132.5px;">20-gallon Still, for brick-work, with cock</div>
<div class="t" style="right:291.5px;top:1132.5px;">27</div>
<div class="t" style="right:253px;top:1132.5px;">0</div>
<div class="t" style="right:214px;top:1132.5px;">0</div>
<div class="t" style="left:287px;top:1166.3px;">25-gallon ditto</div>
<div class="t" style="left:597.5px;top:1166.3px;">ditto</div>
<div class="t" style="right:291.5px;top:1166.3px;">34</div>
<div class="t" style="right:253px;top:1166.3px;">0</div>
<div class="t" style="right:214px;top:1166.3px;">0</div>
<div class="t" style="left:287px;top:1199.6px;">30-gallon ditto</div>
<div class="t" style="left:597.5px;top:1199.6px;">ditto</div>
<div class="t" style="right:291.5px;top:1199.6px;">40</div>
<div class="t" style="right:253px;top:1199.6px;">0</div>
<div class="t" style="right:214px;top:1199.6px;">0</div>
<div class="j" style="left:261.2px;width:621.3px;top:1232.8px;"><b>S</b>tills, 1-gallon, copper, with tin tub and pewter worm</div>
<div class="j" style="left:340.3px;width:309.7px;top:1266.1px;">complete, for a common fire</div>
<div class="t" style="right:289px;top:1266.1px;">2</div>
<div class="t" style="right:250px;top:1266.1px;">2</div>
<div class="t" style="right:211px;top:1266.1px;">0</div>
<div class="j" style="left:834.3px;width:156.1px;top:1335.2px;"><b>S</b>tills, 1-gallon</div>
<div class="j" style="left:847.8px;width:141.0px;top:1360.6px;">tin, complete,</div>
<div class="j" style="left:847.8px;width:142.6px;top:1386.6px;">common, 21s.</div>
<div class="t" style="left:849.4px;top:1412.8px;">best make,</div>
<div class="t" style="left:849.4px;top:1438.9px;"><span style="letter-spacing:0.95px">£1.5s.Fig.53</span></div>
<div class="j" style="left:837.5px;width:154.5px;top:1464.3px;">Ditto, 2-gallon</div>
<div class="t" style="left:850.2px;top:1490.4px;"><span style="letter-spacing:1.1px">£1. 16s.</span></div>
<div class="t b" style="left:516px;top:1557.6px;font-size:21.5px;line-height:21.5px;">Fig. 53.</div>
</body></html>
